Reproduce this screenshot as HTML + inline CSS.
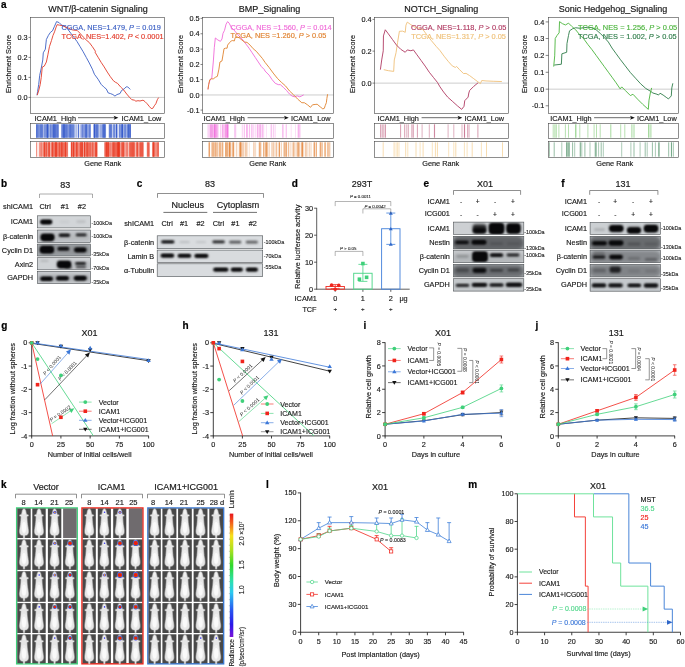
<!DOCTYPE html>
<html lang="en"><head><meta charset="utf-8"><title>Figure</title>
<style>
html,body{margin:0;padding:0;background:#fff;}
body{width:685px;height:667px;overflow:hidden;}
svg{display:block;font-family:"Liberation Sans",Arial,sans-serif;}
svg text{white-space:pre;}
</style></head><body>
<svg width="685" height="667" viewBox="0 0 685 667">
<defs>
<filter color-interpolation-filters="sRGB" id="b1" x="-30%" y="-80%" width="160%" height="260%"><feGaussianBlur stdDeviation="0.95"/></filter>
<filter color-interpolation-filters="sRGB" id="b07" x="-30%" y="-100%" width="160%" height="300%"><feGaussianBlur stdDeviation="0.85"/></filter>
<filter color-interpolation-filters="sRGB" id="bm" x="-30%" y="-10%" width="160%" height="120%"><feGaussianBlur stdDeviation="0.9"/></filter>
<filter color-interpolation-filters="sRGB" id="b2" x="-30%" y="-80%" width="160%" height="260%"><feGaussianBlur stdDeviation="1.6"/></filter>
<filter color-interpolation-filters="sRGB" id="b05" x="-30%" y="-30%" width="160%" height="160%"><feGaussianBlur stdDeviation="0.55"/></filter>
<linearGradient id="cbar" x1="0" y1="0" x2="0" y2="1">
<stop offset="0" stop-color="#e8141c"/><stop offset="0.08" stop-color="#f2661c"/><stop offset="0.18" stop-color="#f7e01c"/><stop offset="0.30" stop-color="#a8e020"/><stop offset="0.42" stop-color="#30d82c"/><stop offset="0.55" stop-color="#2ce0b0"/><stop offset="0.64" stop-color="#2cc8f0"/><stop offset="0.78" stop-color="#2858f0"/><stop offset="0.90" stop-color="#2a18e8"/><stop offset="1" stop-color="#7a12d8"/>
</linearGradient>
</defs>
<g id="pa">
<text x="1" y="7.5" font-size="10" fill="#000" stroke="#000" stroke-width="0.21" font-weight="bold">a</text>
<text x="98" y="12.3" font-size="9" fill="#1a1a1a" stroke="#1a1a1a" stroke-width="0.18" text-anchor="middle">WNT/β-catenin Signaling</text>
<line x1="30.5" y1="97.4" x2="164.5" y2="97.4" stroke="#cdcdcd" stroke-width="1"/>
<polyline points="37,95.2 37.6,91.5 38.69,84.48 39.71,75.28 41.25,68.12 42.78,59.94 43.29,52.79 45.34,49.21 46.36,39.49 48.4,35.4 50.45,32.34 52.49,30.8 54.54,26.2 56.58,21.6 59.14,22.62 61.7,25.18 64.76,26.2 67.83,29.27 70.9,33.36 73.97,37.45 77.03,41.54 80.1,46.65 83.17,51.76 86.24,57.39 89.3,63.01 92.37,69.15 94.42,74.26 98.07,79.21 101.13,84.32 104.2,87.39 106.25,88.92 108.29,93.01 110.34,93.52 112.89,94.55 114.94,96.08 116.98,94.55 120.05,93.52 121.58,90.46 124.14,88.92 126.19,86.88 127.72,86.88 130.28,89.43" fill="none" stroke="#3b5fc4" stroke-width="0.9" stroke-linejoin="round"/>
<polyline points="37.2,95.2 38.6,91 40.22,84.48 41.25,77.33 42.27,67.1 44.31,66.08 46.36,61.99 47.89,54.83 49.43,46.65 51.47,40.52 53.01,35.4 54.54,31.83 56.07,27.22 57.1,24.67 59.65,25.18 62.72,25.69 65.79,27.22 68.85,28.25 71.92,29.78 74.99,30.29 77.03,30.29 80.1,33.36 83.17,36.94 86.24,40.01 89.3,42.56 92.37,46.65 95.44,51.25 95,52.11 98.07,57.22 101.13,62.34 104.2,66.94 107.27,72.05 110.34,76.65 113.4,80.74 115.45,82.28 117.49,83.3 120.56,86.88 123.63,89.94 126.7,94.03 129.76,97.61 131.81,99.66 134.37,100.17 135.9,101.19 137.94,100.68 139.99,100.99 143.06,100.17 145.1,101.7 147.15,103.75 149.19,106.3 151.24,108.55 152.77,108.35 154.3,105.79 155.84,103.75 157.37,99.66 158.6,97.61" fill="none" stroke="#e23b2a" stroke-width="0.9" stroke-linejoin="round"/>
<rect x="30.5" y="17.5" width="134" height="96" fill="none" stroke="#444" stroke-width="0.6"/>
<line x1="28.5" y1="37.4" x2="30.5" y2="37.4" stroke="#333" stroke-width="0.6"/>
<text x="27.6" y="40" font-size="7.3" fill="#1a1a1a" stroke="#1a1a1a" stroke-width="0.15" text-anchor="end">0.3</text>
<line x1="28.5" y1="57.4" x2="30.5" y2="57.4" stroke="#333" stroke-width="0.6"/>
<text x="27.6" y="60" font-size="7.3" fill="#1a1a1a" stroke="#1a1a1a" stroke-width="0.15" text-anchor="end">0.2</text>
<line x1="28.5" y1="77.4" x2="30.5" y2="77.4" stroke="#333" stroke-width="0.6"/>
<text x="27.6" y="80" font-size="7.3" fill="#1a1a1a" stroke="#1a1a1a" stroke-width="0.15" text-anchor="end">0.1</text>
<line x1="28.5" y1="97.4" x2="30.5" y2="97.4" stroke="#333" stroke-width="0.6"/>
<text x="27.6" y="100" font-size="7.3" fill="#1a1a1a" stroke="#1a1a1a" stroke-width="0.15" text-anchor="end">0.0</text>
<text font-size="7.3" fill="#1a1a1a" stroke="#1a1a1a" stroke-width="0.15" text-anchor="middle" transform="translate(11.1 64) rotate(-90)">Enrichment Score</text>
<text x="61.5" y="29.7" font-size="7.35" fill="#3b5fc4" stroke="#3b5fc4" stroke-width="0.15">CGGA, NES=1.479, <tspan font-style="italic">P</tspan> = 0.019</text>
<text x="61.5" y="38.5" font-size="7.35" fill="#e23b2a" stroke="#e23b2a" stroke-width="0.15">TCGA, NES=1.402, <tspan font-style="italic">P</tspan> &lt; 0.0001</text>
<text x="34.6" y="120.6" font-size="7.3" fill="#1a1a1a" stroke="#1a1a1a" stroke-width="0.15">ICAM1_High</text>
<line x1="78" y1="117.7" x2="116" y2="117.7" stroke="#1a1a1a" stroke-width="0.65"/>
<polygon points="118.4,117.7 113.6,115.7 114.8,117.7 113.6,119.7" fill="#111"/>
<text x="121.6" y="120.6" font-size="7.3" fill="#1a1a1a" stroke="#1a1a1a" stroke-width="0.15">ICAM1_Low</text>
<rect x="36" y="124.3" width="22.5" height="13.4" fill="#2f55c8" opacity="0.3"/>
<rect x="61.7" y="124.3" width="14.3" height="13.4" fill="#2f55c8" opacity="0.3"/>
<rect x="76" y="124.3" width="8" height="13.4" fill="#2f55c8" opacity="0.12"/>
<rect x="84" y="124.3" width="6.4" height="13.4" fill="#2f55c8" opacity="0.25"/>
<rect x="93.4" y="124.3" width="12.3" height="13.4" fill="#2f55c8" opacity="0.3"/>
<rect x="108.8" y="124.3" width="8.2" height="13.4" fill="#2f55c8" opacity="0.3"/>
<rect x="118.5" y="124.3" width="12.5" height="13.4" fill="#2f55c8" opacity="0.3"/>
<path d="M78 124.3V137.7" stroke="#2f55c8" stroke-width="0.5" stroke-opacity="0.4" fill="none"/>
<path d="M36.7 124.3V137.7M36.8 124.3V137.7M38.1 124.3V137.7M38.7 124.3V137.7M41.2 124.3V137.7M42.5 124.3V137.7M44.9 124.3V137.7M47 124.3V137.7M50.5 124.3V137.7M53.2 124.3V137.7M53.2 124.3V137.7M55.4 124.3V137.7M56.3 124.3V137.7M57.5 124.3V137.7M61.9 124.3V137.7M62 124.3V137.7M62.1 124.3V137.7M64.1 124.3V137.7M66.6 124.3V137.7M67.7 124.3V137.7M69 124.3V137.7M69.9 124.3V137.7M71.3 124.3V137.7M72.5 124.3V137.7M76.5 124.3V137.7M80.6 124.3V137.7M82 124.3V137.7M83 124.3V137.7M85.3 124.3V137.7M86.2 124.3V137.7M86.8 124.3V137.7M89.8 124.3V137.7M93.9 124.3V137.7M94.4 124.3V137.7M94.4 124.3V137.7M94.7 124.3V137.7M94.8 124.3V137.7M97.6 124.3V137.7M100.4 124.3V137.7M101.6 124.3V137.7M103.6 124.3V137.7M104.6 124.3V137.7M109.1 124.3V137.7M109.5 124.3V137.7M111.3 124.3V137.7M111.4 124.3V137.7M116.3 124.3V137.7M116.8 124.3V137.7M116.9 124.3V137.7M121.5 124.3V137.7M121.6 124.3V137.7M121.7 124.3V137.7M122.3 124.3V137.7M123.9 124.3V137.7M125.4 124.3V137.7M127.1 124.3V137.7M128.4 124.3V137.7M128.8 124.3V137.7M129.7 124.3V137.7M129.7 124.3V137.7M129.9 124.3V137.7M130 124.3V137.7M130.4 124.3V137.7" stroke="#2f55c8" stroke-width="0.5" stroke-opacity="0.6" fill="none"/>
<path d="M36.6 124.3V137.7M37 124.3V137.7M39.9 124.3V137.7M40.9 124.3V137.7M40.9 124.3V137.7M42.1 124.3V137.7M42.8 124.3V137.7M44.4 124.3V137.7M45.9 124.3V137.7M46 124.3V137.7M47.1 124.3V137.7M47.4 124.3V137.7M47.7 124.3V137.7M48.6 124.3V137.7M49 124.3V137.7M51.8 124.3V137.7M52.2 124.3V137.7M53.3 124.3V137.7M53.9 124.3V137.7M54.2 124.3V137.7M54.7 124.3V137.7M54.8 124.3V137.7M54.8 124.3V137.7M55.9 124.3V137.7M57.1 124.3V137.7M57.1 124.3V137.7M58.1 124.3V137.7M62 124.3V137.7M63.3 124.3V137.7M63.8 124.3V137.7M64 124.3V137.7M64 124.3V137.7M64.2 124.3V137.7M64.9 124.3V137.7M66.3 124.3V137.7M66.8 124.3V137.7M67.3 124.3V137.7M68.9 124.3V137.7M69.4 124.3V137.7M70.5 124.3V137.7M71.4 124.3V137.7M71.9 124.3V137.7M73.1 124.3V137.7M78.5 124.3V137.7M78.5 124.3V137.7M78.6 124.3V137.7M81.6 124.3V137.7M82.6 124.3V137.7M82.9 124.3V137.7M83.7 124.3V137.7M84.7 124.3V137.7M85.3 124.3V137.7M85.9 124.3V137.7M86.4 124.3V137.7M89.6 124.3V137.7M90 124.3V137.7M95.1 124.3V137.7M96.3 124.3V137.7M96.4 124.3V137.7M97.6 124.3V137.7M102.7 124.3V137.7M103 124.3V137.7M103.7 124.3V137.7M104.1 124.3V137.7M104.4 124.3V137.7M104.8 124.3V137.7M105.6 124.3V137.7M109.6 124.3V137.7M110.6 124.3V137.7M110.9 124.3V137.7M110.9 124.3V137.7M113.7 124.3V137.7M114.1 124.3V137.7M114.4 124.3V137.7M116.5 124.3V137.7M116.8 124.3V137.7M116.9 124.3V137.7M119.4 124.3V137.7M119.8 124.3V137.7M120.4 124.3V137.7M122.7 124.3V137.7M125.7 124.3V137.7M127.4 124.3V137.7M129 124.3V137.7" stroke="#2f55c8" stroke-width="0.5" stroke-opacity="0.8" fill="none"/>
<path d="M37.3 124.3V137.7M39 124.3V137.7M41.1 124.3V137.7M47.3 124.3V137.7M47.4 124.3V137.7M47.6 124.3V137.7M50.7 124.3V137.7M53.6 124.3V137.7M55.9 124.3V137.7M58.3 124.3V137.7M63.3 124.3V137.7M64.9 124.3V137.7M65.4 124.3V137.7M70.4 124.3V137.7M73.1 124.3V137.7M74 124.3V137.7M86.1 124.3V137.7M87.1 124.3V137.7M88.3 124.3V137.7M90.3 124.3V137.7M94.3 124.3V137.7M94.7 124.3V137.7M94.8 124.3V137.7M96.8 124.3V137.7M98.1 124.3V137.7M103.1 124.3V137.7M105.1 124.3V137.7M116.3 124.3V137.7M122.1 124.3V137.7M122.5 124.3V137.7M122.5 124.3V137.7M124.7 124.3V137.7M128.2 124.3V137.7M128.5 124.3V137.7M130.5 124.3V137.7" stroke="#2f55c8" stroke-width="0.5" stroke-opacity="1" fill="none"/>
<rect x="30.5" y="123.5" width="134" height="15" fill="none" stroke="#444" stroke-width="0.6"/>
<rect x="36.2" y="142.3" width="7.8" height="14.4" fill="#e8341c" opacity="0.1"/>
<rect x="44" y="142.3" width="23.9" height="14.4" fill="#e8341c" opacity="0.38"/>
<rect x="71" y="142.3" width="26.5" height="14.4" fill="#e8341c" opacity="0.38"/>
<rect x="104.7" y="142.3" width="19.3" height="14.4" fill="#e8341c" opacity="0.42"/>
<rect x="124" y="142.3" width="20" height="14.4" fill="#e8341c" opacity="0.22"/>
<rect x="146.5" y="142.3" width="3" height="14.4" fill="#e8341c" opacity="0.2"/>
<rect x="152" y="142.3" width="6.9" height="14.4" fill="#e8341c" opacity="0.3"/>
<path d="M36.5 142.3V156.7M36.6 142.3V156.7M39.6 142.3V156.7M39.7 142.3V156.7M40.7 142.3V156.7M41.4 142.3V156.7M44.5 142.3V156.7M49.3 142.3V156.7M49.6 142.3V156.7M51.5 142.3V156.7M51.8 142.3V156.7M53.2 142.3V156.7M55.1 142.3V156.7M55.3 142.3V156.7M58.9 142.3V156.7M59.6 142.3V156.7M59.8 142.3V156.7M60.1 142.3V156.7M60.7 142.3V156.7M61.8 142.3V156.7M63.4 142.3V156.7M64.4 142.3V156.7M65.7 142.3V156.7M65.7 142.3V156.7M65.8 142.3V156.7M67 142.3V156.7M67.7 142.3V156.7M71.1 142.3V156.7M71.9 142.3V156.7M73 142.3V156.7M73.6 142.3V156.7M73.7 142.3V156.7M74.2 142.3V156.7M74.7 142.3V156.7M75.8 142.3V156.7M77.1 142.3V156.7M78.9 142.3V156.7M81.8 142.3V156.7M84 142.3V156.7M84.6 142.3V156.7M86.4 142.3V156.7M87.2 142.3V156.7M89.4 142.3V156.7M89.8 142.3V156.7M90.2 142.3V156.7M92.2 142.3V156.7M92.7 142.3V156.7M94.2 142.3V156.7M96.4 142.3V156.7M106 142.3V156.7M106.1 142.3V156.7M110.4 142.3V156.7M111.2 142.3V156.7M113.1 142.3V156.7M113.2 142.3V156.7M114.4 142.3V156.7M115.8 142.3V156.7M117.2 142.3V156.7M118.5 142.3V156.7M119.5 142.3V156.7M123.3 142.3V156.7M126 142.3V156.7M130.2 142.3V156.7M130.4 142.3V156.7M132.8 142.3V156.7M133.1 142.3V156.7M133.2 142.3V156.7M133.3 142.3V156.7M139.9 142.3V156.7M140.5 142.3V156.7M140.8 142.3V156.7M141.3 142.3V156.7M142.3 142.3V156.7M142.6 142.3V156.7M147.7 142.3V156.7M152.9 142.3V156.7M153 142.3V156.7M153 142.3V156.7M153.7 142.3V156.7M155.7 142.3V156.7M158.4 142.3V156.7" stroke="#e8341c" stroke-width="0.5" stroke-opacity="0.6" fill="none"/>
<path d="M40.9 142.3V156.7M41.8 142.3V156.7M42.7 142.3V156.7M43.6 142.3V156.7M43.7 142.3V156.7M44.6 142.3V156.7M44.7 142.3V156.7M44.8 142.3V156.7M44.9 142.3V156.7M46.5 142.3V156.7M46.7 142.3V156.7M48.1 142.3V156.7M48.4 142.3V156.7M54.1 142.3V156.7M55 142.3V156.7M56.1 142.3V156.7M56.6 142.3V156.7M58.7 142.3V156.7M59.6 142.3V156.7M61.3 142.3V156.7M62 142.3V156.7M62.3 142.3V156.7M63.6 142.3V156.7M64.6 142.3V156.7M65.5 142.3V156.7M65.6 142.3V156.7M66.9 142.3V156.7M71.4 142.3V156.7M71.5 142.3V156.7M71.5 142.3V156.7M73 142.3V156.7M73.5 142.3V156.7M73.7 142.3V156.7M76.1 142.3V156.7M76.5 142.3V156.7M77.2 142.3V156.7M77.6 142.3V156.7M79.2 142.3V156.7M80.5 142.3V156.7M81.4 142.3V156.7M81.9 142.3V156.7M82.1 142.3V156.7M82.2 142.3V156.7M82.3 142.3V156.7M82.5 142.3V156.7M84.8 142.3V156.7M84.9 142.3V156.7M86.5 142.3V156.7M87.1 142.3V156.7M88.5 142.3V156.7M90.2 142.3V156.7M91 142.3V156.7M92.3 142.3V156.7M93.3 142.3V156.7M95.3 142.3V156.7M96.5 142.3V156.7M97.1 142.3V156.7M104.9 142.3V156.7M106.2 142.3V156.7M106.6 142.3V156.7M106.9 142.3V156.7M107.4 142.3V156.7M107.5 142.3V156.7M108.1 142.3V156.7M108.2 142.3V156.7M109 142.3V156.7M112.5 142.3V156.7M113.2 142.3V156.7M114 142.3V156.7M114.1 142.3V156.7M115.6 142.3V156.7M117.4 142.3V156.7M117.6 142.3V156.7M118.3 142.3V156.7M118.3 142.3V156.7M118.8 142.3V156.7M119.1 142.3V156.7M119.1 142.3V156.7M119.8 142.3V156.7M122 142.3V156.7M123 142.3V156.7M123.6 142.3V156.7M124.2 142.3V156.7M127.3 142.3V156.7M127.8 142.3V156.7M130.2 142.3V156.7M131.5 142.3V156.7M131.6 142.3V156.7M132.8 142.3V156.7M133.7 142.3V156.7M134.8 142.3V156.7M136.7 142.3V156.7M137.1 142.3V156.7M138.9 142.3V156.7M140 142.3V156.7M140.2 142.3V156.7M142.5 142.3V156.7M143.3 142.3V156.7M147.4 142.3V156.7M148.5 142.3V156.7M149.4 142.3V156.7M153.7 142.3V156.7M153.7 142.3V156.7M154 142.3V156.7M154.4 142.3V156.7M156.2 142.3V156.7M157.3 142.3V156.7M157.8 142.3V156.7" stroke="#e8341c" stroke-width="0.5" stroke-opacity="0.8" fill="none"/>
<path d="M46 142.3V156.7M49 142.3V156.7M49.4 142.3V156.7M52.5 142.3V156.7M52.5 142.3V156.7M53.1 142.3V156.7M55.7 142.3V156.7M56 142.3V156.7M56.2 142.3V156.7M56.2 142.3V156.7M57.6 142.3V156.7M61.6 142.3V156.7M62.2 142.3V156.7M65.4 142.3V156.7M73.1 142.3V156.7M76.6 142.3V156.7M80.4 142.3V156.7M80.9 142.3V156.7M84.5 142.3V156.7M84.8 142.3V156.7M87.5 142.3V156.7M88 142.3V156.7M95.7 142.3V156.7M95.8 142.3V156.7M96.3 142.3V156.7M105 142.3V156.7M106.6 142.3V156.7M108.4 142.3V156.7M108.7 142.3V156.7M114.1 142.3V156.7M116.2 142.3V156.7M117.2 142.3V156.7M118.4 142.3V156.7M118.4 142.3V156.7M119.4 142.3V156.7M122 142.3V156.7M122.2 142.3V156.7M123.9 142.3V156.7M126.2 142.3V156.7M129.5 142.3V156.7M130.8 142.3V156.7M132 142.3V156.7M132.9 142.3V156.7M134.6 142.3V156.7M136.9 142.3V156.7M137.5 142.3V156.7M137.8 142.3V156.7M141.4 142.3V156.7M141.9 142.3V156.7M147.9 142.3V156.7M148.8 142.3V156.7M153.3 142.3V156.7M158.3 142.3V156.7" stroke="#e8341c" stroke-width="0.5" stroke-opacity="1" fill="none"/>
<rect x="30.5" y="141.5" width="134" height="16" fill="none" stroke="#444" stroke-width="0.6"/>
<text x="102.8" y="166.4" font-size="7.3" fill="#1a1a1a" stroke="#1a1a1a" stroke-width="0.15" text-anchor="middle">Gene Rank</text>
<text x="269.48" y="12.3" font-size="9" fill="#1a1a1a" stroke="#1a1a1a" stroke-width="0.18" text-anchor="middle">BMP_Signaling</text>
<line x1="202.5" y1="94.96" x2="333.5" y2="94.96" stroke="#cdcdcd" stroke-width="1"/>
<polyline points="208,89.4 208.69,84.48 210.22,79.37 211.76,78.35 213.29,61.99 214.31,47.67 215.34,37.96 217.89,40.01 220.45,41.34 221.98,38.98 223.01,33.36 224.54,30.29 226.07,24.16 227.61,21.6 229.14,23.13 231.19,27.22 233.74,29.78 236.81,33.36 239.88,36.94 242.94,40.01 246.01,44.1 249.08,48.19 252.15,52.79 255.21,57.39 258.28,61.99 261.35,66.59 264.42,69.66 265,71.03 269.09,75.12 272.16,79.72 275.22,83.3 278.29,84.63 280.34,84.63 283.4,87.39 286.47,90.46 289.54,94.03 292.1,96.08 294.65,96.8 297.21,95.88 299.76,96.8 301.81,95.88 303.65,94.85" fill="none" stroke="#f06ad8" stroke-width="0.9" stroke-linejoin="round"/>
<polyline points="208,89.4 208.69,84.48 209.71,79.88 211.25,78.86 213.29,78.86 215.34,77.33 217.38,76.3 218.92,69.15 219.94,61.99 221.98,60.97 223.01,54.83 224.03,48.7 225.56,48.19 227.1,48.19 227.61,45.12 229.14,43.07 231.19,41.03 232.72,40.52 234.25,41.03 235.28,37.45 237.32,36.94 239.37,37.96 241.92,40.01 244.48,42.05 247.03,42.36 250.1,45.12 253.17,48.7 256.24,51.25 259.3,54.83 262.37,58.41 265,62.34 269.09,67.45 273.18,73.07 277.27,78.19 281.36,82.28 285.45,85.85 289.54,90.97 293.63,94.85 297.72,99.15 301.81,102.73 304.37,102.73 307.43,104.77 310.5,107.33 312.55,104.77 315.1,104.46 317.15,104.26 320.21,106.82 322.77,108.86 324.3,108.35 325.33,105.28 326.35,102.73 326.86,98.64 327.58,94.24" fill="none" stroke="#e0822f" stroke-width="0.9" stroke-linejoin="round"/>
<rect x="202.5" y="17.5" width="131" height="96" fill="none" stroke="#444" stroke-width="0.6"/>
<line x1="200.5" y1="18.39" x2="202.5" y2="18.39" stroke="#333" stroke-width="0.6"/>
<text x="199.6" y="20.99" font-size="7.3" fill="#1a1a1a" stroke="#1a1a1a" stroke-width="0.15" text-anchor="end">0.5</text>
<line x1="200.5" y1="33.75" x2="202.5" y2="33.75" stroke="#333" stroke-width="0.6"/>
<text x="199.6" y="36.35" font-size="7.3" fill="#1a1a1a" stroke="#1a1a1a" stroke-width="0.15" text-anchor="end">0.4</text>
<line x1="200.5" y1="49.12" x2="202.5" y2="49.12" stroke="#333" stroke-width="0.6"/>
<text x="199.6" y="51.72" font-size="7.3" fill="#1a1a1a" stroke="#1a1a1a" stroke-width="0.15" text-anchor="end">0.3</text>
<line x1="200.5" y1="64.48" x2="202.5" y2="64.48" stroke="#333" stroke-width="0.6"/>
<text x="199.6" y="67.08" font-size="7.3" fill="#1a1a1a" stroke="#1a1a1a" stroke-width="0.15" text-anchor="end">0.2</text>
<line x1="200.5" y1="79.6" x2="202.5" y2="79.6" stroke="#333" stroke-width="0.6"/>
<text x="199.6" y="82.2" font-size="7.3" fill="#1a1a1a" stroke="#1a1a1a" stroke-width="0.15" text-anchor="end">0.1</text>
<line x1="200.5" y1="94.96" x2="202.5" y2="94.96" stroke="#333" stroke-width="0.6"/>
<text x="199.6" y="97.56" font-size="7.3" fill="#1a1a1a" stroke="#1a1a1a" stroke-width="0.15" text-anchor="end">0.0</text>
<line x1="200.5" y1="110.08" x2="202.5" y2="110.08" stroke="#333" stroke-width="0.6"/>
<text x="199.6" y="112.68" font-size="7.3" fill="#1a1a1a" stroke="#1a1a1a" stroke-width="0.15" text-anchor="end">-0.1</text>
<text font-size="7.3" fill="#1a1a1a" stroke="#1a1a1a" stroke-width="0.15" text-anchor="middle" transform="translate(183.1 64) rotate(-90)">Enrichment Score</text>
<text x="230.44" y="29.5" font-size="7.35" fill="#f06ad8" stroke="#f06ad8" stroke-width="0.15">CGGA, NES =1.560, <tspan font-style="italic">P</tspan> = 0.014</text>
<text x="230.44" y="38.3" font-size="7.35" fill="#e0822f" stroke="#e0822f" stroke-width="0.15">TCGA, NES =1.260, <tspan font-style="italic">P</tspan> &gt; 0.05</text>
<text x="203.49" y="120.6" font-size="7.3" fill="#1a1a1a" stroke="#1a1a1a" stroke-width="0.15">ICAM1_High</text>
<line x1="247.57" y1="117.7" x2="286.37" y2="117.7" stroke="#1a1a1a" stroke-width="0.65"/>
<polygon points="288.77,117.7 283.97,115.7 285.17,117.7 283.97,119.7" fill="#111"/>
<text x="290.89" y="120.6" font-size="7.3" fill="#1a1a1a" stroke="#1a1a1a" stroke-width="0.15">ICAM1_Low</text>
<path d="M222.6 124.3V137.7M223.7 124.3V137.7M225.5 124.3V137.7M226 124.3V137.7M227.9 124.3V137.7M234.9 124.3V137.7M244 124.3V137.7M247 124.3V137.7M247 124.3V137.7M249.3 124.3V137.7M257 124.3V137.7M258.9 124.3V137.7M259.2 124.3V137.7M259.6 124.3V137.7M260.6 124.3V137.7M262.5 124.3V137.7M266.4 124.3V137.7M282.6 124.3V137.7M283.6 124.3V137.7M286 124.3V137.7M291.2 124.3V137.7M295.5 124.3V137.7M298.1 124.3V137.7M299.4 124.3V137.7" stroke="#ee5fd6" stroke-width="0.5" stroke-opacity="0.4" fill="none"/>
<path d="M209.4 124.3V137.7M210.6 124.3V137.7M211 124.3V137.7M214.3 124.3V137.7M214.3 124.3V137.7M214.4 124.3V137.7M214.7 124.3V137.7M216.4 124.3V137.7M216.7 124.3V137.7M216.8 124.3V137.7M217.7 124.3V137.7M218 124.3V137.7M223.2 124.3V137.7M224.6 124.3V137.7M226.4 124.3V137.7M226.5 124.3V137.7M227.5 124.3V137.7M228.1 124.3V137.7M234.8 124.3V137.7M235.8 124.3V137.7M242.3 124.3V137.7M244.5 124.3V137.7M246.6 124.3V137.7M247.2 124.3V137.7M249.5 124.3V137.7M251.4 124.3V137.7M252.1 124.3V137.7M253.3 124.3V137.7M255.2 124.3V137.7M257.5 124.3V137.7M257.9 124.3V137.7M260.3 124.3V137.7M261 124.3V137.7M262.4 124.3V137.7M263.7 124.3V137.7M271 124.3V137.7M271.7 124.3V137.7M273.5 124.3V137.7M275.1 124.3V137.7M282.7 124.3V137.7M286.4 124.3V137.7M298.2 124.3V137.7M298.8 124.3V137.7M300.1 124.3V137.7" stroke="#ee5fd6" stroke-width="0.5" stroke-opacity="0.6" fill="none"/>
<path d="M208.1 124.3V137.7M210.4 124.3V137.7M211.7 124.3V137.7M211.9 124.3V137.7M212.4 124.3V137.7M213.2 124.3V137.7M214.3 124.3V137.7M215.1 124.3V137.7M215.2 124.3V137.7M215.6 124.3V137.7M220.8 124.3V137.7M222.6 124.3V137.7M225.3 124.3V137.7M226.1 124.3V137.7M227.7 124.3V137.7M227.7 124.3V137.7M227.7 124.3V137.7" stroke="#ee5fd6" stroke-width="0.5" stroke-opacity="0.8" fill="none"/>
<rect x="202.5" y="123.5" width="131" height="15" fill="none" stroke="#444" stroke-width="0.6"/>
<path d="M237 142.3V156.7M239.3 142.3V156.7M242.2 142.3V156.7M243.6 142.3V156.7M247.5 142.3V156.7M249.3 142.3V156.7M255.7 142.3V156.7M265.5 142.3V156.7M268.1 142.3V156.7M274.1 142.3V156.7M275.7 142.3V156.7M284.7 142.3V156.7M286.4 142.3V156.7M293.5 142.3V156.7M293.7 142.3V156.7M295.4 142.3V156.7M298.1 142.3V156.7M300.1 142.3V156.7M302.1 142.3V156.7M303 142.3V156.7M303.9 142.3V156.7M305.7 142.3V156.7M307.5 142.3V156.7M308.9 142.3V156.7M321.3 142.3V156.7M328.9 142.3V156.7" stroke="#e07a28" stroke-width="0.5" stroke-opacity="0.4" fill="none"/>
<path d="M209.5 142.3V156.7M209.6 142.3V156.7M211.9 142.3V156.7M212.1 142.3V156.7M212.3 142.3V156.7M213.7 142.3V156.7M213.7 142.3V156.7M217.5 142.3V156.7M217.9 142.3V156.7M219.3 142.3V156.7M219.4 142.3V156.7M220.1 142.3V156.7M220.2 142.3V156.7M220.9 142.3V156.7M221.1 142.3V156.7M222.4 142.3V156.7M223.2 142.3V156.7M226.4 142.3V156.7M227.2 142.3V156.7M227.5 142.3V156.7M229.1 142.3V156.7M229.7 142.3V156.7M231.9 142.3V156.7M232.6 142.3V156.7M233.1 142.3V156.7M233.3 142.3V156.7M233.4 142.3V156.7M233.6 142.3V156.7M233.9 142.3V156.7M236.3 142.3V156.7M240.5 142.3V156.7M240.5 142.3V156.7M242.3 142.3V156.7M243.8 142.3V156.7M254.9 142.3V156.7M259.1 142.3V156.7M259.4 142.3V156.7M260 142.3V156.7M260.5 142.3V156.7M261.1 142.3V156.7M263.5 142.3V156.7M264.5 142.3V156.7M266.4 142.3V156.7M266.6 142.3V156.7M266.7 142.3V156.7M269.4 142.3V156.7M271.6 142.3V156.7M272.6 142.3V156.7M276.3 142.3V156.7M279.5 142.3V156.7M285.9 142.3V156.7M286.5 142.3V156.7M286.8 142.3V156.7M288.7 142.3V156.7M290.8 142.3V156.7M292.4 142.3V156.7M293.9 142.3V156.7M294.1 142.3V156.7M297.7 142.3V156.7M297.8 142.3V156.7M298.5 142.3V156.7M298.5 142.3V156.7M301.6 142.3V156.7M302.1 142.3V156.7M302.1 142.3V156.7M302.3 142.3V156.7M302.4 142.3V156.7M305.7 142.3V156.7M306.4 142.3V156.7M309.7 142.3V156.7M311.1 142.3V156.7M314.1 142.3V156.7M314.5 142.3V156.7M314.5 142.3V156.7M316.2 142.3V156.7M316.3 142.3V156.7M320.2 142.3V156.7M320.4 142.3V156.7M325.6 142.3V156.7M327.6 142.3V156.7M327.7 142.3V156.7" stroke="#e07a28" stroke-width="0.5" stroke-opacity="0.6" fill="none"/>
<path d="M209 142.3V156.7M209.1 142.3V156.7M213.1 142.3V156.7M214.7 142.3V156.7M215.4 142.3V156.7M215.7 142.3V156.7M216.5 142.3V156.7M222.5 142.3V156.7M225.6 142.3V156.7M225.6 142.3V156.7M226.4 142.3V156.7M227.9 142.3V156.7M229.2 142.3V156.7M229.5 142.3V156.7M229.8 142.3V156.7M230 142.3V156.7M230.4 142.3V156.7M239.4 142.3V156.7M240.1 142.3V156.7M240.7 142.3V156.7M240.7 142.3V156.7M241.4 142.3V156.7M245.4 142.3V156.7M246.4 142.3V156.7M253.7 142.3V156.7M259.7 142.3V156.7M263.5 142.3V156.7M265.8 142.3V156.7M266 142.3V156.7M267.4 142.3V156.7M273.7 142.3V156.7M276.8 142.3V156.7M279.1 142.3V156.7M279.2 142.3V156.7M279.5 142.3V156.7M281.3 142.3V156.7M283.9 142.3V156.7M284.4 142.3V156.7M285.7 142.3V156.7M288.7 142.3V156.7M296.9 142.3V156.7M299.4 142.3V156.7M302.7 142.3V156.7M314 142.3V156.7M316.3 142.3V156.7M320.2 142.3V156.7M321.2 142.3V156.7M322.5 142.3V156.7M324.5 142.3V156.7M325.4 142.3V156.7M328.8 142.3V156.7M329.9 142.3V156.7" stroke="#e07a28" stroke-width="0.5" stroke-opacity="0.8" fill="none"/>
<rect x="202.5" y="141.5" width="131" height="16" fill="none" stroke="#444" stroke-width="0.6"/>
<text x="267.72" y="166.4" font-size="7.3" fill="#1a1a1a" stroke="#1a1a1a" stroke-width="0.15" text-anchor="middle">Gene Rank</text>
<text x="441.23" y="12.3" font-size="9" fill="#1a1a1a" stroke="#1a1a1a" stroke-width="0.18" text-anchor="middle">NOTCH_Signaling</text>
<line x1="374.5" y1="83.12" x2="508.5" y2="83.12" stroke="#cdcdcd" stroke-width="1"/>
<polyline points="383.76,69.66 388.36,70.68 393.68,71.4 394.29,59.94 396.03,52.79 397.56,42.56 399.4,31.31 402.67,31.11 405.23,32.34 405.95,25.18 407.28,22.11 410.85,24.67 414.94,27.22 419.03,28.25 423.12,29.78 427.21,35.4 431.3,40.52 436.42,46.65 440,50.58 444.09,56.2 448.18,61.31 452.27,65.92 455.34,67.45 456.56,66.43 459.43,69.49 463.52,73.58 466.07,73.38 469.65,75.63 473.74,78.7 477.83,81.76 480.39,83.61 481.72,80.54 486.01,80.95 493.17,81.25 501.86,81.56" fill="none" stroke="#efc078" stroke-width="0.9" stroke-linejoin="round"/>
<polyline points="380.38,69.66 381.71,59.94 383.25,50.74 383.45,35.92 385.29,29.78 388.36,33.87 392.45,39.49 396.54,45.12 400.63,49.21 405.23,52.28 407.28,49.92 410.85,50.74 413.41,49.92 416.99,54.83 421.08,60.46 425.17,66.08 429.26,72.21 433.35,77.33 437.44,82.44 440,86.88 443.58,91.99 447.67,97.1 452.27,101.19 457.38,105.79 461.68,109.37 464.03,106.3 464.74,100.68 468.12,97.1 468.83,93.01 469.65,90.46 473.74,86.37 478.04,82.79" fill="none" stroke="#b03a62" stroke-width="0.9" stroke-linejoin="round"/>
<rect x="374.5" y="17.5" width="134" height="96" fill="none" stroke="#444" stroke-width="0.6"/>
<line x1="372.5" y1="19.4" x2="374.5" y2="19.4" stroke="#333" stroke-width="0.6"/>
<text x="371.6" y="22" font-size="7.3" fill="#1a1a1a" stroke="#1a1a1a" stroke-width="0.15" text-anchor="end">0.4</text>
<line x1="372.5" y1="51.13" x2="374.5" y2="51.13" stroke="#333" stroke-width="0.6"/>
<text x="371.6" y="53.73" font-size="7.3" fill="#1a1a1a" stroke="#1a1a1a" stroke-width="0.15" text-anchor="end">0.2</text>
<line x1="372.5" y1="83.12" x2="374.5" y2="83.12" stroke="#333" stroke-width="0.6"/>
<text x="371.6" y="85.72" font-size="7.3" fill="#1a1a1a" stroke="#1a1a1a" stroke-width="0.15" text-anchor="end">0.0</text>
<text font-size="7.3" fill="#1a1a1a" stroke="#1a1a1a" stroke-width="0.15" text-anchor="middle" transform="translate(355.1 64) rotate(-90)">Enrichment Score</text>
<text x="411" y="29.7" font-size="7.42" fill="#b03a62" stroke="#b03a62" stroke-width="0.15">CGGA, NES=1.118, <tspan font-style="italic">P</tspan> &gt; 0.05</text>
<text x="411.25" y="38.5" font-size="7.42" fill="#efc078" stroke="#efc078" stroke-width="0.15">TCGA, NES=1.317, <tspan font-style="italic">P</tspan> &gt; 0.05</text>
<text x="377.5" y="120.6" font-size="7.3" fill="#1a1a1a" stroke="#1a1a1a" stroke-width="0.15">ICAM1_High</text>
<line x1="421.58" y1="117.7" x2="459.88" y2="117.7" stroke="#1a1a1a" stroke-width="0.65"/>
<polygon points="462.28,117.7 457.48,115.7 458.68,117.7 457.48,119.7" fill="#111"/>
<text x="464.4" y="120.6" font-size="7.3" fill="#1a1a1a" stroke="#1a1a1a" stroke-width="0.15">ICAM1_Low</text>
<path d="M406.8 124.3V137.7M408.4 124.3V137.7M422.1 124.3V137.7M429.3 124.3V137.7M434.4 124.3V137.7M434.6 124.3V137.7M448.1 124.3V137.7M453.8 124.3V137.7M462 124.3V137.7M464.4 124.3V137.7M469.1 124.3V137.7" stroke="#b03a62" stroke-width="0.5" stroke-opacity="0.8" fill="none"/>
<path d="M380.6 124.3V137.7M382.2 124.3V137.7M383.9 124.3V137.7M385.5 124.3V137.7M400.6 124.3V137.7M404.7 124.3V137.7M411.9 124.3V137.7M413.3 124.3V137.7M417.4 124.3V137.7M464.6 124.3V137.7M467.7 124.3V137.7M477.9 124.3V137.7" stroke="#b03a62" stroke-width="0.5" stroke-opacity="1" fill="none"/>
<rect x="374.5" y="123.5" width="134" height="15" fill="none" stroke="#444" stroke-width="0.6"/>
<path d="M396.1 142.3V156.7M397.6 142.3V156.7M399 142.3V156.7M407.8 142.3V156.7M420.1 142.3V156.7M432.3 142.3V156.7M448.7 142.3V156.7M453.8 142.3V156.7M464.4 142.3V156.7M467.1 142.3V156.7M481.4 142.3V156.7" stroke="#efb860" stroke-width="0.5" stroke-opacity="0.8" fill="none"/>
<path d="M383.2 142.3V156.7M394.1 142.3V156.7M405.7 142.3V156.7M416 142.3V156.7M423.1 142.3V156.7M435.4 142.3V156.7M437.4 142.3V156.7M455.8 142.3V156.7M472.2 142.3V156.7M486.5 142.3V156.7M502.5 142.3V156.7" stroke="#efb860" stroke-width="0.5" stroke-opacity="1" fill="none"/>
<rect x="374.5" y="141.5" width="134" height="16" fill="none" stroke="#444" stroke-width="0.6"/>
<text x="440.73" y="166.4" font-size="7.3" fill="#1a1a1a" stroke="#1a1a1a" stroke-width="0.15" text-anchor="middle">Gene Rank</text>
<text x="613" y="12.3" font-size="9" fill="#1a1a1a" stroke="#1a1a1a" stroke-width="0.18" text-anchor="middle">Sonic Hedgehog_Signaling</text>
<line x1="548.5" y1="89.17" x2="678.5" y2="89.17" stroke="#cdcdcd" stroke-width="1"/>
<polyline points="554.2,65.06 561.36,64.24 561.87,53.81 566.68,52.28 566.98,43.58 568.52,35.4 569.54,30.8 572.61,28.76 575.67,27.74 579.76,28.25 583.85,27.74 587.94,27.22 592.03,27.74 596.12,29.78 600.21,33.36 604.3,37.45 608.39,42.05 612,48.02 616.09,53.65 620.18,59.27 625.29,65.92 630.4,72.56 635.52,78.19 640.63,83.81 645.74,88.41 650.85,91.48 652.9,93.01 656.99,94.24 658.52,95.06 660.06,93.22 663.12,95.06 666.19,97.31 668.44,98.94 671.3,95.88 671.82,87.9 672.84,83.3" fill="none" stroke="#2f7d4a" stroke-width="0.9" stroke-linejoin="round"/>
<polyline points="553.69,66.59 554.71,55.85 555.22,38.47 557.07,35.4 559.11,32.85 559.52,21.6 562.38,23.65 565.45,24.98 568.52,23.13 571.58,26.2 575.67,29.78 579.76,34.89 583.85,38.98 587.94,44.61 592.03,49.72 596.12,55.34 600.21,60.97 604.3,66.59 608.39,72.21 612,77.16 616.09,82.79 620.18,88.92 621.71,86.88 625.29,90.46 630.4,95.57 632.96,94.24 637.56,99.15 642.67,104.26 648.3,109.37 649.01,100.17 650.34,93.01 651.67,87.9" fill="none" stroke="#4bb43c" stroke-width="0.9" stroke-linejoin="round"/>
<rect x="548.5" y="17.5" width="130" height="96" fill="none" stroke="#444" stroke-width="0.6"/>
<line x1="545.7" y1="21.91" x2="548.5" y2="21.91" stroke="#333" stroke-width="0.6"/>
<text x="544.3" y="24.51" font-size="7.3" fill="#1a1a1a" stroke="#1a1a1a" stroke-width="0.15" text-anchor="end">0.4</text>
<line x1="545.7" y1="38.54" x2="548.5" y2="38.54" stroke="#333" stroke-width="0.6"/>
<text x="544.3" y="41.14" font-size="7.3" fill="#1a1a1a" stroke="#1a1a1a" stroke-width="0.15" text-anchor="end">0.3</text>
<line x1="545.7" y1="55.42" x2="548.5" y2="55.42" stroke="#333" stroke-width="0.6"/>
<text x="544.3" y="58.02" font-size="7.3" fill="#1a1a1a" stroke="#1a1a1a" stroke-width="0.15" text-anchor="end">0.2</text>
<line x1="545.7" y1="72.29" x2="548.5" y2="72.29" stroke="#333" stroke-width="0.6"/>
<text x="544.3" y="74.89" font-size="7.3" fill="#1a1a1a" stroke="#1a1a1a" stroke-width="0.15" text-anchor="end">0.1</text>
<line x1="545.7" y1="89.17" x2="548.5" y2="89.17" stroke="#333" stroke-width="0.6"/>
<text x="544.3" y="91.77" font-size="7.3" fill="#1a1a1a" stroke="#1a1a1a" stroke-width="0.15" text-anchor="end">0.0</text>
<line x1="545.7" y1="105.79" x2="548.5" y2="105.79" stroke="#333" stroke-width="0.6"/>
<text x="544.3" y="108.39" font-size="7.3" fill="#1a1a1a" stroke="#1a1a1a" stroke-width="0.15" text-anchor="end">-0.1</text>
<text font-size="7.3" fill="#1a1a1a" stroke="#1a1a1a" stroke-width="0.15" text-anchor="middle" transform="translate(527 64) rotate(-90)">Enrichment Score</text>
<text x="578" y="29.9" font-size="7.45" fill="#4bb43c" stroke="#4bb43c" stroke-width="0.15">TCGA, NES = 1.256, <tspan font-style="italic">P</tspan> &gt; 0.05</text>
<text x="578" y="38.8" font-size="7.4" fill="#2f7d4a" stroke="#2f7d4a" stroke-width="0.15">TCGA, NES = 1.002, <tspan font-style="italic">P</tspan> &gt; 0.05</text>
<text x="550.28" y="120.6" font-size="7.3" fill="#1a1a1a" stroke="#1a1a1a" stroke-width="0.15">ICAM1_High</text>
<line x1="594.11" y1="117.7" x2="632.41" y2="117.7" stroke="#1a1a1a" stroke-width="0.65"/>
<polygon points="634.81,117.7 630.01,115.7 631.21,117.7 630.01,119.7" fill="#111"/>
<text x="636.93" y="120.6" font-size="7.3" fill="#1a1a1a" stroke="#1a1a1a" stroke-width="0.15">ICAM1_Low</text>
<path d="M553.2 124.3V137.7M554.8 124.3V137.7M558.9 124.3V137.7M565.4 124.3V137.7M568.5 124.3V137.7M575.7 124.3V137.7M575.9 124.3V137.7M579.8 124.3V137.7M587.9 124.3V137.7M594.1 124.3V137.7M596.5 124.3V137.7M600.2 124.3V137.7M620.7 124.3V137.7M624.8 124.3V137.7M648.7 124.3V137.7M648.9 124.3V137.7" stroke="#4bb43c" stroke-width="0.5" stroke-opacity="0.8" fill="none"/>
<path d="M556.2 124.3V137.7M610.8 124.3V137.7M631.9 124.3V137.7M634 124.3V137.7M650.9 124.3V137.7" stroke="#4bb43c" stroke-width="0.5" stroke-opacity="1" fill="none"/>
<rect x="548.5" y="123.5" width="130" height="15" fill="none" stroke="#444" stroke-width="0.6"/>
<path d="M549.5 142.3V156.7M561.8 142.3V156.7M567.1 142.3V156.7M567.9 142.3V156.7M569.5 142.3V156.7M574.7 142.3V156.7M580.2 142.3V156.7M580.4 142.3V156.7M581.8 142.3V156.7M590 142.3V156.7M595.1 142.3V156.7M595.5 142.3V156.7M596.5 142.3V156.7M598.6 142.3V156.7M603.3 142.3V156.7M621.7 142.3V156.7M630.9 142.3V156.7M640.1 142.3V156.7M647.2 142.3V156.7M655.4 142.3V156.7M659.5 142.3V156.7M671.6 142.3V156.7M673.4 142.3V156.7" stroke="#2f7d4a" stroke-width="0.5" stroke-opacity="0.8" fill="none"/>
<path d="M554.2 142.3V156.7M566.5 142.3V156.7M568.7 142.3V156.7M572.6 142.3V156.7M584.9 142.3V156.7M601.2 142.3V156.7M634 142.3V156.7M645.2 142.3V156.7M652.4 142.3V156.7M658.5 142.3V156.7M668.7 142.3V156.7M671.4 142.3V156.7" stroke="#2f7d4a" stroke-width="0.5" stroke-opacity="1" fill="none"/>
<rect x="548.5" y="141.5" width="130" height="16" fill="none" stroke="#444" stroke-width="0.6"/>
<text x="614.76" y="166.4" font-size="7.3" fill="#1a1a1a" stroke="#1a1a1a" stroke-width="0.15" text-anchor="middle">Gene Rank</text>
</g>
<g id="pb">
<text x="1" y="187.2" font-size="10" fill="#000" stroke="#000" stroke-width="0.21" font-weight="bold">b</text>
<text x="65.3" y="187.5" font-size="9" fill="#1a1a1a" stroke="#1a1a1a" stroke-width="0.18" text-anchor="middle">83</text>
<polyline points="39.5,198 39.5,194 92.5,194 92.5,198" fill="none" stroke="#666" stroke-width="0.55" stroke-linejoin="round"/>
<text x="33.1" y="209.2" font-size="7.3" fill="#1a1a1a" stroke="#1a1a1a" stroke-width="0.15" text-anchor="end">shICAM1</text>
<text x="45.2" y="209.2" font-size="7.3" fill="#1a1a1a" stroke="#1a1a1a" stroke-width="0.15" text-anchor="middle">Ctrl</text>
<text x="64.9" y="209.2" font-size="7.3" fill="#1a1a1a" stroke="#1a1a1a" stroke-width="0.15" text-anchor="middle">#1</text>
<text x="81.9" y="209.2" font-size="7.3" fill="#1a1a1a" stroke="#1a1a1a" stroke-width="0.15" text-anchor="middle">#2</text>
<clipPath id="bc1"><rect x="37.5" y="215.8" width="53" height="12.1"/></clipPath>
<rect x="37.5" y="215.8" width="53" height="12.1" fill="#d2d5d8"/>
<g clip-path="url(#bc1)">
<rect x="40.2" y="219.8" width="12" height="4.4" fill="#08080a" rx="2.09" opacity="1" filter="url(#b1)"/>
<rect x="41" y="220.6" width="10.4" height="2.8" fill="#08080a" rx="1.33" opacity="1" filter="url(#b1)"/>
<rect x="76.4" y="220.2" width="9.2" height="2.8" fill="#08080a" rx="1.33" opacity="0.1" filter="url(#b1)"/>
<rect x="59.6" y="220.4" width="10" height="2.8" fill="#08080a" rx="1.33" opacity="0.04" filter="url(#b1)"/>
</g>
<rect x="37.5" y="215.8" width="53" height="12.1" fill="none" stroke="#4c5054" stroke-width="0.6"/>
<text x="33.1" y="224.1" font-size="7.3" fill="#1a1a1a" stroke="#1a1a1a" stroke-width="0.15" text-anchor="end">ICAM1</text>
<text x="91.5" y="224.5" font-size="5.4" fill="#1a1a1a" stroke="#1a1a1a" stroke-width="0.11">-100kDa</text>
<clipPath id="bc2"><rect x="37.5" y="230" width="53" height="12.5"/></clipPath>
<rect x="37.5" y="230" width="53" height="12.5" fill="#c6c9cd"/>
<g clip-path="url(#bc2)">
<rect x="38" y="233" width="52" height="8" fill="#1c1d20" rx="4" opacity="0.08" filter="url(#b2)"/>
<rect x="40.7" y="233.7" width="13.6" height="7.2" fill="#08080a" rx="2.4" opacity="1" filter="url(#b1)"/>
<rect x="41.5" y="234.8" width="12" height="5.4" fill="#08080a" rx="2.4" opacity="1" filter="url(#b1)"/>
<rect x="58.8" y="233.7" width="11.2" height="3" fill="#08080a" rx="1.42" opacity="0.95" filter="url(#b1)"/>
<rect x="59.6" y="234.4" width="9.6" height="1.6" fill="#08080a" rx="0.76" opacity="0.7" filter="url(#b07)"/>
<rect x="75.8" y="233.6" width="10.8" height="2.6" fill="#08080a" rx="1.23" opacity="0.8" filter="url(#b1)"/>
<rect x="76.6" y="234.2" width="9.2" height="1.4" fill="#08080a" rx="0.66" opacity="0.5" filter="url(#b07)"/>
</g>
<rect x="37.5" y="230" width="53" height="12.5" fill="none" stroke="#4c5054" stroke-width="0.6"/>
<text x="33.1" y="238.6" font-size="7.3" fill="#1a1a1a" stroke="#1a1a1a" stroke-width="0.15" text-anchor="end">β-catenin</text>
<text x="91.5" y="237.8" font-size="5.4" fill="#1a1a1a" stroke="#1a1a1a" stroke-width="0.11">-100kDa</text>
<clipPath id="bc3"><rect x="37.5" y="244.1" width="53" height="11.9"/></clipPath>
<rect x="37.5" y="244.1" width="53" height="11.9" fill="#a6aaae"/>
<g clip-path="url(#bc3)">
<rect x="38" y="245" width="52" height="10" fill="#1c1d20" rx="5" opacity="0.15" filter="url(#b2)"/>
<rect x="39.9" y="246.1" width="14" height="7.2" fill="#08080a" rx="2.4" opacity="1" filter="url(#b1)"/>
<rect x="40.7" y="247" width="12.4" height="5.4" fill="#08080a" rx="2.4" opacity="1" filter="url(#b1)"/>
<rect x="57.5" y="247" width="11.8" height="3.6" fill="#08080a" rx="1.71" opacity="0.95" filter="url(#b1)"/>
<rect x="58.4" y="247.8" width="10" height="2" fill="#08080a" rx="0.95" opacity="0.7" filter="url(#b07)"/>
<rect x="74.1" y="247.5" width="12.4" height="4.8" fill="#08080a" rx="2.28" opacity="1" filter="url(#b1)"/>
<rect x="75.1" y="248.4" width="10.4" height="3" fill="#08080a" rx="1.42" opacity="0.8" filter="url(#b1)"/>
</g>
<rect x="37.5" y="244.1" width="53" height="11.9" fill="none" stroke="#4c5054" stroke-width="0.6"/>
<text x="33.1" y="252.8" font-size="7.3" fill="#1a1a1a" stroke="#1a1a1a" stroke-width="0.15" text-anchor="end">Cyclin D1</text>
<text x="91.5" y="256.1" font-size="5.4" fill="#1a1a1a" stroke="#1a1a1a" stroke-width="0.11">-35kDa</text>
<clipPath id="bc4"><rect x="37.5" y="257.7" width="53" height="12.1"/></clipPath>
<rect x="37.5" y="257.7" width="53" height="12.1" fill="#cfd2d5"/>
<g clip-path="url(#bc4)">
<rect x="56" y="261" width="36" height="8" fill="#1c1d20" rx="4" opacity="0.1" filter="url(#b2)"/>
<rect x="40.5" y="259.9" width="8" height="1.8" fill="#08080a" rx="0.85" opacity="0.15" filter="url(#b1)"/>
<rect x="57.1" y="260.8" width="14" height="7.2" fill="#08080a" rx="2.4" opacity="1" filter="url(#b1)"/>
<rect x="57.9" y="262.1" width="12.4" height="5.4" fill="#08080a" rx="2.4" opacity="1" filter="url(#b1)"/>
<rect x="65" y="266.4" width="7" height="2" fill="#08080a" rx="0.95" opacity="0.6" filter="url(#b1)"/>
<rect x="75.2" y="262.2" width="10.8" height="2.6" fill="#08080a" rx="1.23" opacity="0.95" filter="url(#b07)"/>
<rect x="76.2" y="262.9" width="8.8" height="1.2" fill="#08080a" rx="0.57" opacity="0.6" filter="url(#b07)"/>
<rect x="76" y="266" width="10" height="1.8" fill="#08080a" rx="0.85" opacity="0.85" filter="url(#b07)"/>
</g>
<rect x="37.5" y="257.7" width="53" height="12.1" fill="none" stroke="#4c5054" stroke-width="0.6"/>
<text x="33.1" y="267" font-size="7.3" fill="#1a1a1a" stroke="#1a1a1a" stroke-width="0.15" text-anchor="end">Axin2</text>
<text x="91.5" y="269.9" font-size="5.4" fill="#1a1a1a" stroke="#1a1a1a" stroke-width="0.11">-70kDa</text>
<clipPath id="bc5"><rect x="37.5" y="271.4" width="53" height="12.2"/></clipPath>
<rect x="37.5" y="271.4" width="53" height="12.2" fill="#c6c9cd"/>
<g clip-path="url(#bc5)">
<rect x="38" y="275" width="52" height="6" fill="#1c1d20" rx="3" opacity="0.15" filter="url(#b2)"/>
<rect x="40.4" y="276.8" width="12.4" height="4" fill="#08080a" rx="1.9" opacity="1" filter="url(#b1)"/>
<rect x="56.2" y="276.3" width="12.6" height="4" fill="#08080a" rx="1.9" opacity="1" filter="url(#b1)"/>
<rect x="74" y="276" width="12.6" height="4.4" fill="#08080a" rx="2.09" opacity="1" filter="url(#b1)"/>
<rect x="41.2" y="277.6" width="10.8" height="2.4" fill="#08080a" rx="1.14" opacity="0.9" filter="url(#b07)"/>
<rect x="57" y="277.1" width="11" height="2.4" fill="#08080a" rx="1.14" opacity="0.9" filter="url(#b07)"/>
<rect x="74.8" y="276.8" width="11" height="2.8" fill="#08080a" rx="1.33" opacity="0.9" filter="url(#b07)"/>
</g>
<rect x="37.5" y="271.4" width="53" height="12.2" fill="none" stroke="#4c5054" stroke-width="0.6"/>
<text x="33.1" y="279.9" font-size="7.3" fill="#1a1a1a" stroke="#1a1a1a" stroke-width="0.15" text-anchor="end">GAPDH</text>
<text x="91.5" y="283.6" font-size="5.4" fill="#1a1a1a" stroke="#1a1a1a" stroke-width="0.11">-35kDa</text>
</g>
<g id="pc">
<text x="136.8" y="186.9" font-size="10" fill="#000" stroke="#000" stroke-width="0.21" font-weight="bold">c</text>
<text x="210" y="187.4" font-size="9" fill="#1a1a1a" stroke="#1a1a1a" stroke-width="0.18" text-anchor="middle">83</text>
<polyline points="157.5,197.8 157.5,193.5 263.5,193.5 263.5,197.8" fill="none" stroke="#444" stroke-width="0.6" stroke-linejoin="round"/>
<text x="187.7" y="208" font-size="9" fill="#1a1a1a" stroke="#1a1a1a" stroke-width="0.18" text-anchor="middle">Nucleus</text>
<text x="237.9" y="208" font-size="9" fill="#1a1a1a" stroke="#1a1a1a" stroke-width="0.18" text-anchor="middle">Cytoplasm</text>
<line x1="163.4" y1="212.4" x2="207.3" y2="212.4" stroke="#333" stroke-width="0.7"/>
<line x1="213" y1="212.4" x2="257" y2="212.4" stroke="#333" stroke-width="0.7"/>
<text x="154.2" y="226.1" font-size="7.3" fill="#1a1a1a" stroke="#1a1a1a" stroke-width="0.15" text-anchor="end">shICAM1</text>
<text x="167.1" y="226.1" font-size="7.3" fill="#1a1a1a" stroke="#1a1a1a" stroke-width="0.15" text-anchor="middle">Ctrl</text>
<text x="184" y="226.1" font-size="7.3" fill="#1a1a1a" stroke="#1a1a1a" stroke-width="0.15" text-anchor="middle">#1</text>
<text x="200.6" y="226.1" font-size="7.3" fill="#1a1a1a" stroke="#1a1a1a" stroke-width="0.15" text-anchor="middle">#2</text>
<text x="218.5" y="226.1" font-size="7.3" fill="#1a1a1a" stroke="#1a1a1a" stroke-width="0.15" text-anchor="middle">Ctrl</text>
<text x="235.4" y="226.1" font-size="7.3" fill="#1a1a1a" stroke="#1a1a1a" stroke-width="0.15" text-anchor="middle">#1</text>
<text x="252.8" y="226.1" font-size="7.3" fill="#1a1a1a" stroke="#1a1a1a" stroke-width="0.15" text-anchor="middle">#2</text>
<clipPath id="bc6"><rect x="157.2" y="235.8" width="105.5" height="12.9"/></clipPath>
<rect x="157.2" y="235.8" width="105.5" height="12.9" fill="#d9dcdf"/>
<g clip-path="url(#bc6)">
<rect x="161.2" y="240.5" width="13.2" height="2.8" fill="#08080a" rx="1.33" opacity="1" filter="url(#b07)"/>
<rect x="162.4" y="241.2" width="10.8" height="1.4" fill="#08080a" rx="0.66" opacity="0.7" filter="url(#b07)"/>
<rect x="179.6" y="241.3" width="10" height="1.8" fill="#08080a" rx="0.85" opacity="0.16" filter="url(#b1)"/>
<rect x="196" y="241.3" width="10" height="1.8" fill="#08080a" rx="0.85" opacity="0.12" filter="url(#b1)"/>
<rect x="212.4" y="240.5" width="12.4" height="2.8" fill="#08080a" rx="1.33" opacity="0.9" filter="url(#b07)"/>
<rect x="229.2" y="240.8" width="12" height="2.6" fill="#08080a" rx="1.23" opacity="0.65" filter="url(#b07)"/>
<rect x="245.8" y="240.8" width="12" height="2.6" fill="#08080a" rx="1.23" opacity="0.6" filter="url(#b07)"/>
</g>
<rect x="157.2" y="235.8" width="105.5" height="12.9" fill="none" stroke="#4c5054" stroke-width="0.6"/>
<text x="154.2" y="244.65" font-size="7.3" fill="#1a1a1a" stroke="#1a1a1a" stroke-width="0.15" text-anchor="end">β-catenin</text>
<text x="263.8" y="244.4" font-size="5.4" fill="#1a1a1a" stroke="#1a1a1a" stroke-width="0.11">-100kDa</text>
<clipPath id="bc7"><rect x="157.2" y="250.1" width="105.5" height="12.5"/></clipPath>
<rect x="157.2" y="250.1" width="105.5" height="12.5" fill="#d8dbde"/>
<g clip-path="url(#bc7)">
<rect x="160.6" y="253.7" width="13.6" height="3.8" fill="#08080a" rx="1.8" opacity="1" filter="url(#b07)"/>
<rect x="177.6" y="254" width="13.6" height="3.6" fill="#08080a" rx="1.71" opacity="1" filter="url(#b07)"/>
<rect x="194.4" y="254" width="14" height="3.8" fill="#08080a" rx="1.8" opacity="1" filter="url(#b07)"/>
<rect x="161.8" y="254.6" width="11.2" height="2" fill="#08080a" rx="0.95" opacity="0.8" filter="url(#b1)"/>
<rect x="178.8" y="254.8" width="11.2" height="2" fill="#08080a" rx="0.95" opacity="0.8" filter="url(#b1)"/>
<rect x="195.6" y="254.9" width="11.6" height="2" fill="#08080a" rx="0.95" opacity="0.8" filter="url(#b1)"/>
</g>
<rect x="157.2" y="250.1" width="105.5" height="12.5" fill="none" stroke="#4c5054" stroke-width="0.6"/>
<text x="154.2" y="258.75" font-size="7.3" fill="#1a1a1a" stroke="#1a1a1a" stroke-width="0.15" text-anchor="end">Lamin B</text>
<text x="263.8" y="258.3" font-size="5.4" fill="#1a1a1a" stroke="#1a1a1a" stroke-width="0.11">-70kDa</text>
<clipPath id="bc8"><rect x="157.2" y="263.8" width="105.5" height="12.9"/></clipPath>
<rect x="157.2" y="263.8" width="105.5" height="12.9" fill="#d9dcdf"/>
<g clip-path="url(#bc8)">
<rect x="213.2" y="267.7" width="15.2" height="3.8" fill="#08080a" rx="1.8" opacity="1" filter="url(#b07)"/>
<rect x="230.8" y="267.8" width="12" height="3.6" fill="#08080a" rx="1.71" opacity="1" filter="url(#b07)"/>
<rect x="245.9" y="267.8" width="12" height="3.6" fill="#08080a" rx="1.71" opacity="1" filter="url(#b07)"/>
<rect x="214.4" y="268.6" width="12.8" height="2" fill="#08080a" rx="0.95" opacity="0.8" filter="url(#b1)"/>
<rect x="232" y="268.6" width="9.6" height="2" fill="#08080a" rx="0.95" opacity="0.8" filter="url(#b1)"/>
<rect x="247.1" y="268.6" width="9.6" height="2" fill="#08080a" rx="0.95" opacity="0.8" filter="url(#b1)"/>
</g>
<rect x="157.2" y="263.8" width="105.5" height="12.9" fill="none" stroke="#4c5054" stroke-width="0.6"/>
<text x="154.2" y="272.65" font-size="7.3" fill="#1a1a1a" stroke="#1a1a1a" stroke-width="0.15" text-anchor="end">α-Tubulin</text>
<text x="263.8" y="269.2" font-size="5.4" fill="#1a1a1a" stroke="#1a1a1a" stroke-width="0.11">-55kDa</text>
</g>
<g id="pd">
<text x="291.8" y="186.8" font-size="10" fill="#000" stroke="#000" stroke-width="0.21" font-weight="bold">d</text>
<text x="361.9" y="187.4" font-size="9" fill="#1a1a1a" stroke="#1a1a1a" stroke-width="0.18" text-anchor="middle">293T</text>
<line x1="316.7" y1="207.9" x2="316.7" y2="289.5" stroke="#2a2a2a" stroke-width="0.75"/>
<line x1="316.4" y1="289.2" x2="409.7" y2="289.2" stroke="#2a2a2a" stroke-width="0.75"/>
<line x1="314.1" y1="289.2" x2="316.7" y2="289.2" stroke="#2a2a2a" stroke-width="0.75"/>
<text x="313.1" y="291.9" font-size="7.3" fill="#1a1a1a" stroke="#1a1a1a" stroke-width="0.15" text-anchor="end">0</text>
<line x1="314.1" y1="262.2" x2="316.7" y2="262.2" stroke="#2a2a2a" stroke-width="0.75"/>
<text x="313.1" y="264.9" font-size="7.3" fill="#1a1a1a" stroke="#1a1a1a" stroke-width="0.15" text-anchor="end">10</text>
<line x1="314.1" y1="235.2" x2="316.7" y2="235.2" stroke="#2a2a2a" stroke-width="0.75"/>
<text x="313.1" y="237.9" font-size="7.3" fill="#1a1a1a" stroke="#1a1a1a" stroke-width="0.15" text-anchor="end">20</text>
<line x1="314.1" y1="208.2" x2="316.7" y2="208.2" stroke="#2a2a2a" stroke-width="0.75"/>
<text x="313.1" y="210.9" font-size="7.3" fill="#1a1a1a" stroke="#1a1a1a" stroke-width="0.15" text-anchor="end">30</text>
<line x1="335.2" y1="289.2" x2="335.2" y2="291.8" stroke="#2a2a2a" stroke-width="0.75"/>
<line x1="362.9" y1="289.2" x2="362.9" y2="291.8" stroke="#2a2a2a" stroke-width="0.75"/>
<line x1="390.8" y1="289.2" x2="390.8" y2="291.8" stroke="#2a2a2a" stroke-width="0.75"/>
<text font-size="7.3" fill="#1a1a1a" stroke="#1a1a1a" stroke-width="0.15" text-anchor="middle" transform="translate(300.2 246.7) rotate(-90)">Relative luciferase activity</text>
<rect x="326" y="286.5" width="18.4" height="2.7" fill="none" stroke="#f0342a" stroke-width="0.95"/>
<line x1="335.2" y1="288.66" x2="335.2" y2="284.61" stroke="#f0342a" stroke-width="0.85"/>
<line x1="330.7" y1="284.61" x2="339.7" y2="284.61" stroke="#f0342a" stroke-width="0.85"/>
<line x1="330.7" y1="288.66" x2="339.7" y2="288.66" stroke="#f0342a" stroke-width="0.85"/>
<rect x="353.7" y="273.27" width="18.4" height="15.93" fill="none" stroke="#4fd68a" stroke-width="0.95"/>
<line x1="362.9" y1="281.37" x2="362.9" y2="264.36" stroke="#4fd68a" stroke-width="0.85"/>
<line x1="358.4" y1="264.36" x2="367.4" y2="264.36" stroke="#4fd68a" stroke-width="0.85"/>
<line x1="358.4" y1="281.37" x2="367.4" y2="281.37" stroke="#4fd68a" stroke-width="0.85"/>
<rect x="381.6" y="228.72" width="18.4" height="60.48" fill="none" stroke="#4a86dc" stroke-width="0.95"/>
<line x1="390.8" y1="244.38" x2="390.8" y2="213.06" stroke="#4a86dc" stroke-width="0.85"/>
<line x1="386.3" y1="213.06" x2="395.3" y2="213.06" stroke="#4a86dc" stroke-width="0.85"/>
<line x1="386.3" y1="244.38" x2="395.3" y2="244.38" stroke="#4a86dc" stroke-width="0.85"/>
<circle cx="331.6" cy="285.15" r="1.8" fill="#f0241c"/>
<circle cx="338.8" cy="285.42" r="1.8" fill="#f0241c"/>
<circle cx="335.2" cy="289.2" r="1.8" fill="#f0241c"/>
<rect x="361.1" y="261.75" width="3.6" height="3.6" fill="#3fd07a"/>
<rect x="357.6" y="277.41" width="3.6" height="3.6" fill="#3fd07a"/>
<rect x="364.8" y="275.52" width="3.6" height="3.6" fill="#3fd07a"/>
<polygon points="390.8,211.33 392.8,214.63 388.8,214.63" fill="#2f66c8"/>
<polygon points="390.8,226.99 392.8,230.29 388.8,230.29" fill="#2f66c8"/>
<polygon points="390.8,242.38 392.8,245.68 388.8,245.68" fill="#2f66c8"/>
<polyline points="335.2,206.1 335.2,201.5 390.8,201.5 390.8,206.1" fill="none" stroke="#444" stroke-width="0.4" stroke-linejoin="round"/>
<text x="360.4" y="198.4" font-size="4.4" fill="#1a1a1a" stroke="#1a1a1a" stroke-width="0.09" text-anchor="middle"><tspan font-style="italic">P</tspan> = 0.0011</text>
<polyline points="362.9,213.5 362.9,208.8 390.8,208.8 390.8,213.5" fill="none" stroke="#444" stroke-width="0.4" stroke-linejoin="round"/>
<text x="375.1" y="207.6" font-size="4.4" fill="#1a1a1a" stroke="#1a1a1a" stroke-width="0.09" text-anchor="middle"><tspan font-style="italic">P</tspan> = 0.0042</text>
<polyline points="335.2,256 335.2,251.4 362.9,251.4 362.9,256" fill="none" stroke="#444" stroke-width="0.4" stroke-linejoin="round"/>
<text x="348.2" y="250.2" font-size="4.4" fill="#1a1a1a" stroke="#1a1a1a" stroke-width="0.09" text-anchor="middle"><tspan font-style="italic">P</tspan> &gt; 0.05</text>
<text x="294.6" y="300.8" font-size="7.3" fill="#1a1a1a" stroke="#1a1a1a" stroke-width="0.15">ICAM1</text>
<text x="335.2" y="300.8" font-size="7.3" fill="#1a1a1a" stroke="#1a1a1a" stroke-width="0.15" text-anchor="middle">0</text>
<text x="362.9" y="300.8" font-size="7.3" fill="#1a1a1a" stroke="#1a1a1a" stroke-width="0.15" text-anchor="middle">1</text>
<text x="390.8" y="300.8" font-size="7.3" fill="#1a1a1a" stroke="#1a1a1a" stroke-width="0.15" text-anchor="middle">2</text>
<text x="399.4" y="300.8" font-size="7.3" fill="#1a1a1a" stroke="#1a1a1a" stroke-width="0.15">μg</text>
<text x="302.4" y="311.9" font-size="7.3" fill="#1a1a1a" stroke="#1a1a1a" stroke-width="0.15">TCF</text>
<text x="335.2" y="310.6" font-size="6.2" fill="#1a1a1a" stroke="#1a1a1a" stroke-width="0.13" text-anchor="middle">+</text>
<text x="362.9" y="310.6" font-size="6.2" fill="#1a1a1a" stroke="#1a1a1a" stroke-width="0.13" text-anchor="middle">+</text>
<text x="390.8" y="310.6" font-size="6.2" fill="#1a1a1a" stroke="#1a1a1a" stroke-width="0.13" text-anchor="middle">+</text>
</g>
<g id="pe">
<text x="423.4" y="186.8" font-size="10" fill="#000" stroke="#000" stroke-width="0.21" font-weight="bold">e</text>
<text x="485.1" y="187.4" font-size="9" fill="#1a1a1a" stroke="#1a1a1a" stroke-width="0.18" text-anchor="middle">X01</text>
<polyline points="453.5,194.8 453.5,190.5 520.6,190.5 520.6,194.8" fill="none" stroke="#444" stroke-width="0.6" stroke-linejoin="round"/>
<text x="449.9" y="203.8" font-size="7.3" fill="#1a1a1a" stroke="#1a1a1a" stroke-width="0.15" text-anchor="end">ICAM1</text>
<text x="449.9" y="216.4" font-size="7.3" fill="#1a1a1a" stroke="#1a1a1a" stroke-width="0.15" text-anchor="end">ICG001</text>
<text x="461" y="204.2" font-size="6.6" fill="#1a1a1a" stroke="#1a1a1a" stroke-width="0.14" text-anchor="middle">-</text>
<text x="477.6" y="204.2" font-size="6.6" fill="#1a1a1a" stroke="#1a1a1a" stroke-width="0.14" text-anchor="middle">+</text>
<text x="495" y="204.2" font-size="6.6" fill="#1a1a1a" stroke="#1a1a1a" stroke-width="0.14" text-anchor="middle">-</text>
<text x="512.9" y="204.2" font-size="6.6" fill="#1a1a1a" stroke="#1a1a1a" stroke-width="0.14" text-anchor="middle">+</text>
<text x="461" y="216.8" font-size="6.6" fill="#1a1a1a" stroke="#1a1a1a" stroke-width="0.14" text-anchor="middle">-</text>
<text x="477.6" y="216.8" font-size="6.6" fill="#1a1a1a" stroke="#1a1a1a" stroke-width="0.14" text-anchor="middle">-</text>
<text x="495" y="216.8" font-size="6.6" fill="#1a1a1a" stroke="#1a1a1a" stroke-width="0.14" text-anchor="middle">+</text>
<text x="512.9" y="216.8" font-size="6.6" fill="#1a1a1a" stroke="#1a1a1a" stroke-width="0.14" text-anchor="middle">+</text>
<clipPath id="bc9"><rect x="453.5" y="222.1" width="70.3" height="12.3"/></clipPath>
<rect x="453.5" y="222.1" width="70.3" height="12.3" fill="#cdd0d3"/>
<g clip-path="url(#bc9)">
<rect x="488" y="222" width="17" height="12" fill="#1c1d20" rx="6" opacity="0.35" filter="url(#b2)"/>
<rect x="505.5" y="222" width="16" height="12" fill="#1c1d20" rx="6" opacity="0.3" filter="url(#b2)"/>
<rect x="471.5" y="222" width="16" height="12" fill="#1c1d20" rx="6" opacity="0.2" filter="url(#b2)"/>
<rect x="472.9" y="224.4" width="13.2" height="9.2" fill="#08080a" rx="2.4" opacity="0.75" filter="url(#b1)"/>
<rect x="473.1" y="227.8" width="12.8" height="5.2" fill="#08080a" rx="2.4" opacity="1" filter="url(#b1)"/>
<rect x="489.1" y="223.1" width="14.8" height="10.8" fill="#08080a" rx="2.4" opacity="1" filter="url(#b1)"/>
<rect x="489.9" y="224.4" width="13.2" height="8.8" fill="#08080a" rx="2.4" opacity="1" filter="url(#b1)"/>
<rect x="506.7" y="223.4" width="13.6" height="10" fill="#08080a" rx="2.4" opacity="1" filter="url(#b1)"/>
<rect x="507.5" y="225" width="12" height="7.6" fill="#08080a" rx="2.4" opacity="1" filter="url(#b1)"/>
</g>
<rect x="453.5" y="222.1" width="70.3" height="12.3" fill="none" stroke="#4c5054" stroke-width="0.6"/>
<text x="449.9" y="230.65" font-size="7.3" fill="#1a1a1a" stroke="#1a1a1a" stroke-width="0.15" text-anchor="end">ICAM1</text>
<text x="524.2" y="234.2" font-size="5.4" fill="#1a1a1a" stroke="#1a1a1a" stroke-width="0.11">-100kDa</text>
<clipPath id="bc10"><rect x="453.5" y="236.3" width="70.3" height="12.6"/></clipPath>
<rect x="453.5" y="236.3" width="70.3" height="12.6" fill="#a4a8ac"/>
<g clip-path="url(#bc10)">
<rect x="452" y="236" width="72" height="14" fill="#1c1d20" rx="7" opacity="0.5" filter="url(#b2)"/>
<rect x="455.2" y="240.7" width="13.6" height="3.4" fill="#08080a" rx="1.61" opacity="0.9" filter="url(#b1)"/>
<rect x="456.4" y="241.6" width="11.2" height="1.6" fill="#08080a" rx="0.76" opacity="0.6" filter="url(#b07)"/>
<rect x="471.6" y="240.1" width="14.8" height="4.4" fill="#08080a" rx="2.09" opacity="1" filter="url(#b1)"/>
<rect x="472.6" y="241" width="12.8" height="2.6" fill="#08080a" rx="1.23" opacity="0.9" filter="url(#b1)"/>
<rect x="490" y="242.4" width="13" height="2.4" fill="#08080a" rx="1.14" opacity="0.2" filter="url(#b1)"/>
<rect x="507" y="242.4" width="13" height="2.4" fill="#08080a" rx="1.14" opacity="0.15" filter="url(#b1)"/>
</g>
<rect x="453.5" y="236.3" width="70.3" height="12.6" fill="none" stroke="#4c5054" stroke-width="0.6"/>
<text x="449.9" y="245" font-size="7.3" fill="#1a1a1a" stroke="#1a1a1a" stroke-width="0.15" text-anchor="end">Nestin</text>
<text x="524.2" y="249.6" font-size="5.4" fill="#1a1a1a" stroke="#1a1a1a" stroke-width="0.11">-130kDa</text>
<clipPath id="bc11"><rect x="453.5" y="250.2" width="70.3" height="12.5"/></clipPath>
<rect x="453.5" y="250.2" width="70.3" height="12.5" fill="#c7cacd"/>
<g clip-path="url(#bc11)">
<rect x="452" y="253" width="72" height="10" fill="#1c1d20" rx="5" opacity="0.1" filter="url(#b2)"/>
<rect x="456.5" y="255" width="12" height="2.8" fill="#08080a" rx="1.33" opacity="0.2" filter="url(#b1)"/>
<rect x="472.4" y="251.4" width="15.2" height="10.4" fill="#08080a" rx="2.4" opacity="1" filter="url(#b1)"/>
<rect x="473.2" y="252.6" width="13.6" height="8.4" fill="#08080a" rx="2.4" opacity="1" filter="url(#b1)"/>
<rect x="489.9" y="253.4" width="13.2" height="3.4" fill="#08080a" rx="1.61" opacity="1" filter="url(#b1)"/>
<rect x="491.1" y="254.3" width="10.8" height="1.6" fill="#08080a" rx="0.76" opacity="0.7" filter="url(#b07)"/>
<rect x="506.6" y="253.6" width="12.8" height="2.8" fill="#08080a" rx="1.33" opacity="0.8" filter="url(#b1)"/>
<rect x="508" y="254.4" width="10" height="1.2" fill="#08080a" rx="0.57" opacity="0.5" filter="url(#b07)"/>
</g>
<rect x="453.5" y="250.2" width="70.3" height="12.5" fill="none" stroke="#4c5054" stroke-width="0.6"/>
<text x="449.9" y="258.85" font-size="7.3" fill="#1a1a1a" stroke="#1a1a1a" stroke-width="0.15" text-anchor="end">β-catenin</text>
<text x="524.2" y="257.3" font-size="5.4" fill="#1a1a1a" stroke="#1a1a1a" stroke-width="0.11">-100kDa</text>
<clipPath id="bc12"><rect x="453.5" y="264.3" width="70.3" height="12.6"/></clipPath>
<rect x="453.5" y="264.3" width="70.3" height="12.6" fill="#a6aaae"/>
<g clip-path="url(#bc12)">
<rect x="452" y="265" width="72" height="12" fill="#1c1d20" rx="6" opacity="0.42" filter="url(#b2)"/>
<rect x="456" y="268.2" width="13" height="4" fill="#08080a" rx="1.9" opacity="0.35" filter="url(#b1)"/>
<rect x="472.5" y="267.8" width="14" height="5.2" fill="#08080a" rx="2.4" opacity="0.95" filter="url(#b1)"/>
<rect x="490" y="269" width="13" height="2.8" fill="#08080a" rx="1.33" opacity="0.5" filter="url(#b1)"/>
<rect x="507.5" y="268.4" width="12" height="3.2" fill="#08080a" rx="1.52" opacity="0.45" filter="url(#b1)"/>
</g>
<rect x="453.5" y="264.3" width="70.3" height="12.6" fill="none" stroke="#4c5054" stroke-width="0.6"/>
<text x="449.9" y="273" font-size="7.3" fill="#1a1a1a" stroke="#1a1a1a" stroke-width="0.15" text-anchor="end">Cyclin D1</text>
<text x="524.2" y="275.2" font-size="5.4" fill="#1a1a1a" stroke="#1a1a1a" stroke-width="0.11">-35kDa</text>
<clipPath id="bc13"><rect x="453.5" y="278.7" width="70.3" height="12.4"/></clipPath>
<rect x="453.5" y="278.7" width="70.3" height="12.4" fill="#c3c7ca"/>
<g clip-path="url(#bc13)">
<rect x="455.7" y="284.1" width="13.6" height="2.6" fill="#08080a" rx="1.23" opacity="0.8" filter="url(#b1)"/>
<rect x="456.9" y="284.8" width="11.2" height="1.2" fill="#08080a" rx="0.57" opacity="0.7" filter="url(#b07)"/>
<rect x="471.7" y="283" width="15.6" height="3.8" fill="#08080a" rx="1.8" opacity="0.9" filter="url(#b1)"/>
<rect x="472.9" y="283.9" width="13.2" height="2" fill="#08080a" rx="0.95" opacity="0.9" filter="url(#b07)"/>
<rect x="489.3" y="283.4" width="14.4" height="3.2" fill="#08080a" rx="1.52" opacity="0.9" filter="url(#b1)"/>
<rect x="490.5" y="284.2" width="12" height="1.6" fill="#08080a" rx="0.76" opacity="0.8" filter="url(#b07)"/>
<rect x="505.8" y="282.8" width="16.4" height="4" fill="#08080a" rx="1.9" opacity="0.9" filter="url(#b1)"/>
<rect x="507" y="283.7" width="14" height="2.2" fill="#08080a" rx="1.04" opacity="0.9" filter="url(#b07)"/>
</g>
<rect x="453.5" y="278.7" width="70.3" height="12.4" fill="none" stroke="#4c5054" stroke-width="0.6"/>
<text x="449.9" y="287.3" font-size="7.3" fill="#1a1a1a" stroke="#1a1a1a" stroke-width="0.15" text-anchor="end">GAPDH</text>
<text x="524.2" y="290.7" font-size="5.4" fill="#1a1a1a" stroke="#1a1a1a" stroke-width="0.11">-35kDa</text>
<text x="561.2" y="186.8" font-size="10" fill="#000" stroke="#000" stroke-width="0.21" font-weight="bold">f</text>
<text x="623.1" y="187.4" font-size="9" fill="#1a1a1a" stroke="#1a1a1a" stroke-width="0.18" text-anchor="middle">131</text>
<polyline points="589.7,194.8 589.7,190.5 657.9,190.5 657.9,194.8" fill="none" stroke="#444" stroke-width="0.6" stroke-linejoin="round"/>
<text x="587" y="203.8" font-size="7.3" fill="#1a1a1a" stroke="#1a1a1a" stroke-width="0.15" text-anchor="end">ICAM1</text>
<text x="587" y="216.4" font-size="7.3" fill="#1a1a1a" stroke="#1a1a1a" stroke-width="0.15" text-anchor="end">ICG001</text>
<text x="599.2" y="204.2" font-size="6.6" fill="#1a1a1a" stroke="#1a1a1a" stroke-width="0.14" text-anchor="middle">-</text>
<text x="615.3" y="204.2" font-size="6.6" fill="#1a1a1a" stroke="#1a1a1a" stroke-width="0.14" text-anchor="middle">+</text>
<text x="633.2" y="204.2" font-size="6.6" fill="#1a1a1a" stroke="#1a1a1a" stroke-width="0.14" text-anchor="middle">-</text>
<text x="651" y="204.2" font-size="6.6" fill="#1a1a1a" stroke="#1a1a1a" stroke-width="0.14" text-anchor="middle">+</text>
<text x="599.2" y="216.8" font-size="6.6" fill="#1a1a1a" stroke="#1a1a1a" stroke-width="0.14" text-anchor="middle">-</text>
<text x="615.3" y="216.8" font-size="6.6" fill="#1a1a1a" stroke="#1a1a1a" stroke-width="0.14" text-anchor="middle">-</text>
<text x="633.2" y="216.8" font-size="6.6" fill="#1a1a1a" stroke="#1a1a1a" stroke-width="0.14" text-anchor="middle">+</text>
<text x="651" y="216.8" font-size="6.6" fill="#1a1a1a" stroke="#1a1a1a" stroke-width="0.14" text-anchor="middle">+</text>
<clipPath id="bc14"><rect x="590.1" y="222.3" width="70.3" height="12.1"/></clipPath>
<rect x="590.1" y="222.3" width="70.3" height="12.1" fill="#ccd0d3"/>
<g clip-path="url(#bc14)">
<rect x="608" y="223.5" width="16" height="10" fill="#1c1d20" rx="5" opacity="0.12" filter="url(#b2)"/>
<rect x="626" y="225" width="16" height="10" fill="#1c1d20" rx="5" opacity="0.12" filter="url(#b2)"/>
<rect x="643" y="223.5" width="16" height="10" fill="#1c1d20" rx="5" opacity="0.12" filter="url(#b2)"/>
<rect x="594" y="228.2" width="11" height="2.8" fill="#08080a" rx="1.33" opacity="0.15" filter="url(#b1)"/>
<rect x="609.3" y="225.3" width="14" height="6.4" fill="#08080a" rx="2.4" opacity="1" filter="url(#b1)"/>
<rect x="610.1" y="226.2" width="12.4" height="4.6" fill="#08080a" rx="2.18" opacity="1" filter="url(#b1)"/>
<rect x="627.2" y="227.2" width="13.6" height="6" fill="#08080a" rx="2.4" opacity="1" filter="url(#b1)"/>
<rect x="628" y="228.6" width="12" height="4" fill="#08080a" rx="1.9" opacity="1" filter="url(#b1)"/>
<rect x="644" y="225" width="14" height="7.2" fill="#08080a" rx="2.4" opacity="1" filter="url(#b1)"/>
<rect x="644.8" y="226" width="12.4" height="5.2" fill="#08080a" rx="2.4" opacity="1" filter="url(#b1)"/>
</g>
<rect x="590.1" y="222.3" width="70.3" height="12.1" fill="none" stroke="#4c5054" stroke-width="0.6"/>
<text x="587" y="230.75" font-size="7.3" fill="#1a1a1a" stroke="#1a1a1a" stroke-width="0.15" text-anchor="end">ICAM1</text>
<text x="660.9" y="229.6" font-size="5.4" fill="#1a1a1a" stroke="#1a1a1a" stroke-width="0.11">-100kDa</text>
<clipPath id="bc15"><rect x="590.1" y="236.3" width="70.3" height="12.6"/></clipPath>
<rect x="590.1" y="236.3" width="70.3" height="12.6" fill="#a8acb0"/>
<g clip-path="url(#bc15)">
<rect x="589" y="236" width="72" height="14" fill="#1c1d20" rx="7" opacity="0.45" filter="url(#b2)"/>
<rect x="592.1" y="241.2" width="14.8" height="4" fill="#08080a" rx="1.9" opacity="1" filter="url(#b1)"/>
<rect x="593.3" y="242.2" width="12.4" height="2" fill="#08080a" rx="0.95" opacity="0.6" filter="url(#b07)"/>
<rect x="608.6" y="240.6" width="14.8" height="4.8" fill="#08080a" rx="2.28" opacity="1" filter="url(#b1)"/>
<rect x="609.6" y="241.5" width="12.8" height="3" fill="#08080a" rx="1.42" opacity="0.8" filter="url(#b1)"/>
<rect x="627.5" y="242.6" width="13" height="2.8" fill="#08080a" rx="1.33" opacity="0.25" filter="url(#b1)"/>
<rect x="644.5" y="242.6" width="13" height="2.8" fill="#08080a" rx="1.33" opacity="0.15" filter="url(#b1)"/>
</g>
<rect x="590.1" y="236.3" width="70.3" height="12.6" fill="none" stroke="#4c5054" stroke-width="0.6"/>
<text x="587" y="245" font-size="7.3" fill="#1a1a1a" stroke="#1a1a1a" stroke-width="0.15" text-anchor="end">Nestin</text>
<text x="660.9" y="249.1" font-size="5.4" fill="#1a1a1a" stroke="#1a1a1a" stroke-width="0.11">-130kDa</text>
<clipPath id="bc16"><rect x="590.1" y="250.2" width="70.3" height="12.5"/></clipPath>
<rect x="590.1" y="250.2" width="70.3" height="12.5" fill="#b4b8bc"/>
<g clip-path="url(#bc16)">
<rect x="589" y="251" width="72" height="12" fill="#1c1d20" rx="6" opacity="0.3" filter="url(#b2)"/>
<rect x="592.6" y="255.2" width="12.8" height="3.6" fill="#08080a" rx="1.71" opacity="0.85" filter="url(#b1)"/>
<rect x="593.4" y="252.3" width="11.2" height="1.8" fill="#08080a" rx="0.85" opacity="0.3" filter="url(#b1)"/>
<rect x="609.2" y="254.7" width="13.6" height="4.6" fill="#08080a" rx="2.18" opacity="1" filter="url(#b1)"/>
<rect x="610.4" y="256" width="11.2" height="2.4" fill="#08080a" rx="1.14" opacity="0.6" filter="url(#b07)"/>
<rect x="628" y="257" width="12" height="2.8" fill="#08080a" rx="1.33" opacity="0.2" filter="url(#b1)"/>
<rect x="645" y="258" width="12" height="2.8" fill="#08080a" rx="1.33" opacity="0.3" filter="url(#b1)"/>
</g>
<rect x="590.1" y="250.2" width="70.3" height="12.5" fill="none" stroke="#4c5054" stroke-width="0.6"/>
<text x="587" y="258.85" font-size="7.3" fill="#1a1a1a" stroke="#1a1a1a" stroke-width="0.15" text-anchor="end">β-catenin</text>
<text x="660.9" y="259.6" font-size="5.4" fill="#1a1a1a" stroke="#1a1a1a" stroke-width="0.11">-100kDa</text>
<clipPath id="bc17"><rect x="590.1" y="264.3" width="70.3" height="12.6"/></clipPath>
<rect x="590.1" y="264.3" width="70.3" height="12.6" fill="#b2b6ba"/>
<g clip-path="url(#bc17)">
<rect x="589" y="265" width="72" height="12" fill="#1c1d20" rx="6" opacity="0.32" filter="url(#b2)"/>
<rect x="593" y="268.6" width="13" height="4" fill="#08080a" rx="1.9" opacity="0.25" filter="url(#b1)"/>
<rect x="609.6" y="266.4" width="11.2" height="6.4" fill="#08080a" rx="2.4" opacity="0.8" filter="url(#b1)"/>
<rect x="628" y="269.5" width="12" height="3" fill="#08080a" rx="1.42" opacity="0.1" filter="url(#b1)"/>
<rect x="645" y="269.5" width="12" height="3" fill="#08080a" rx="1.42" opacity="0.12" filter="url(#b1)"/>
</g>
<rect x="590.1" y="264.3" width="70.3" height="12.6" fill="none" stroke="#4c5054" stroke-width="0.6"/>
<text x="587" y="273" font-size="7.3" fill="#1a1a1a" stroke="#1a1a1a" stroke-width="0.15" text-anchor="end">Cyclin D1</text>
<text x="660.9" y="275.8" font-size="5.4" fill="#1a1a1a" stroke="#1a1a1a" stroke-width="0.11">-35kDa</text>
<clipPath id="bc18"><rect x="590.1" y="278.7" width="70.3" height="12.5"/></clipPath>
<rect x="590.1" y="278.7" width="70.3" height="12.5" fill="#c4c8cc"/>
<g clip-path="url(#bc18)">
<rect x="591.8" y="283.6" width="14.4" height="3.6" fill="#08080a" rx="1.71" opacity="0.9" filter="url(#b1)"/>
<rect x="592.8" y="284.5" width="12.4" height="1.8" fill="#08080a" rx="0.85" opacity="0.9" filter="url(#b07)"/>
<rect x="608.3" y="283.6" width="14.4" height="3.6" fill="#08080a" rx="1.71" opacity="0.9" filter="url(#b1)"/>
<rect x="609.3" y="284.5" width="12.4" height="1.8" fill="#08080a" rx="0.85" opacity="0.9" filter="url(#b07)"/>
<rect x="627.5" y="283.7" width="13.6" height="3.4" fill="#08080a" rx="1.61" opacity="0.9" filter="url(#b1)"/>
<rect x="628.5" y="284.6" width="11.6" height="1.6" fill="#08080a" rx="0.76" opacity="0.9" filter="url(#b07)"/>
<rect x="643.8" y="283.6" width="14.4" height="3.8" fill="#08080a" rx="1.8" opacity="0.9" filter="url(#b1)"/>
<rect x="644.8" y="284.5" width="12.4" height="2" fill="#08080a" rx="0.95" opacity="0.9" filter="url(#b07)"/>
</g>
<rect x="590.1" y="278.7" width="70.3" height="12.5" fill="none" stroke="#4c5054" stroke-width="0.6"/>
<text x="587" y="287.35" font-size="7.3" fill="#1a1a1a" stroke="#1a1a1a" stroke-width="0.15" text-anchor="end">GAPDH</text>
<text x="660.9" y="290.1" font-size="5.4" fill="#1a1a1a" stroke="#1a1a1a" stroke-width="0.11">-35kDa</text>
</g>
<g id="pg">
<text x="1.2" y="329.4" font-size="10" fill="#000" stroke="#000" stroke-width="0.21" font-weight="bold">g</text>
<text x="89.4" y="336.2" font-size="9" fill="#1a1a1a" stroke="#1a1a1a" stroke-width="0.18" text-anchor="middle">X01</text>
<line x1="31.7" y1="342.5" x2="31.7" y2="436.2" stroke="#2a2a2a" stroke-width="0.9"/>
<line x1="31.4" y1="435.9" x2="148.9" y2="435.9" stroke="#2a2a2a" stroke-width="0.9"/>
<line x1="28.7" y1="342.8" x2="31.7" y2="342.8" stroke="#2a2a2a" stroke-width="0.9"/>
<text x="27.4" y="345.4" font-size="7.3" fill="#1a1a1a" stroke="#1a1a1a" stroke-width="0.15" text-anchor="end">0</text>
<line x1="28.7" y1="366.07" x2="31.7" y2="366.07" stroke="#2a2a2a" stroke-width="0.9"/>
<text x="27.4" y="368.68" font-size="7.3" fill="#1a1a1a" stroke="#1a1a1a" stroke-width="0.15" text-anchor="end">-1</text>
<line x1="28.7" y1="389.35" x2="31.7" y2="389.35" stroke="#2a2a2a" stroke-width="0.9"/>
<text x="27.4" y="391.95" font-size="7.3" fill="#1a1a1a" stroke="#1a1a1a" stroke-width="0.15" text-anchor="end">-2</text>
<line x1="28.7" y1="412.62" x2="31.7" y2="412.62" stroke="#2a2a2a" stroke-width="0.9"/>
<text x="27.4" y="415.23" font-size="7.3" fill="#1a1a1a" stroke="#1a1a1a" stroke-width="0.15" text-anchor="end">-3</text>
<line x1="28.7" y1="435.9" x2="31.7" y2="435.9" stroke="#2a2a2a" stroke-width="0.9"/>
<text x="27.4" y="438.5" font-size="7.3" fill="#1a1a1a" stroke="#1a1a1a" stroke-width="0.15" text-anchor="end">-4</text>
<line x1="31.7" y1="435.9" x2="31.7" y2="438.5" stroke="#2a2a2a" stroke-width="0.9"/>
<text x="31.7" y="447.3" font-size="7.3" fill="#1a1a1a" stroke="#1a1a1a" stroke-width="0.15" text-anchor="middle">0</text>
<line x1="60.92" y1="435.9" x2="60.92" y2="438.5" stroke="#2a2a2a" stroke-width="0.9"/>
<text x="60.92" y="447.3" font-size="7.3" fill="#1a1a1a" stroke="#1a1a1a" stroke-width="0.15" text-anchor="middle">25</text>
<line x1="90.15" y1="435.9" x2="90.15" y2="438.5" stroke="#2a2a2a" stroke-width="0.9"/>
<text x="90.15" y="447.3" font-size="7.3" fill="#1a1a1a" stroke="#1a1a1a" stroke-width="0.15" text-anchor="middle">50</text>
<line x1="119.38" y1="435.9" x2="119.38" y2="438.5" stroke="#2a2a2a" stroke-width="0.9"/>
<text x="119.38" y="447.3" font-size="7.3" fill="#1a1a1a" stroke="#1a1a1a" stroke-width="0.15" text-anchor="middle">75</text>
<line x1="148.6" y1="435.9" x2="148.6" y2="438.5" stroke="#2a2a2a" stroke-width="0.9"/>
<text x="148.6" y="447.3" font-size="7.3" fill="#1a1a1a" stroke="#1a1a1a" stroke-width="0.15" text-anchor="middle">100</text>
<clipPath id="clg"><rect x="28.7" y="337.8" width="124.9" height="98.1"/></clipPath>
<g clip-path="url(#clg)">
<line x1="31.7" y1="342.8" x2="93.42" y2="435.9" stroke="#3fd07a" stroke-width="0.8"/>
<line x1="31.7" y1="342.8" x2="52.63" y2="435.9" stroke="#f0241c" stroke-width="0.8"/>
<line x1="31.7" y1="343.27" x2="148.6" y2="360.72" stroke="#111" stroke-width="0.8"/>
<line x1="31.7" y1="342.8" x2="148.6" y2="359.56" stroke="#3c78d8" stroke-width="0.8"/>
</g>
<line x1="40.3" y1="383.88" x2="69.37" y2="351.24" stroke="#3c78d8" stroke-width="0.6"/>
<polygon points="71.03,349.37 65.99,351.57 69.43,354.63" fill="#3c78d8"/>
<text transform="translate(53.33 366.4) rotate(-48.31)" font-size="5.0" text-anchor="middle" fill="#222"><tspan font-style="italic">P</tspan> &lt; 0.0001</text>
<line x1="44.84" y1="399.75" x2="88.2" y2="354.2" stroke="#111" stroke-width="0.6"/>
<polygon points="89.92,352.39 84.81,354.43 88.14,357.6" fill="#111"/>
<text transform="translate(68.71 371.92) rotate(-46.4)" font-size="5.0" text-anchor="middle" fill="#222"><tspan font-style="italic">P</tspan> &lt; 0.0001</text>
<line x1="51.64" y1="423.68" x2="72.24" y2="409.71" stroke="#3fd07a" stroke-width="0.6"/>
<polygon points="74.31,408.31 68.88,409.21 71.46,413.02" fill="#3fd07a"/>
<text transform="translate(61.23 414.88) rotate(-34.13)" font-size="5.0" text-anchor="middle" fill="#222"><tspan font-style="italic">P</tspan> = 0.0002</text>
<circle cx="31.7" cy="342.8" r="1.9" fill="#3fd07a"/>
<rect x="29.9" y="341" width="3.6" height="3.6" fill="#f0241c"/>
<circle cx="37.55" cy="359.09" r="1.9" fill="#3fd07a"/>
<circle cx="60.92" cy="375.38" r="1.9" fill="#3fd07a"/>
<rect x="35.75" y="382.89" width="3.6" height="3.6" fill="#f0241c"/>
<rect x="59.12" y="415.48" width="3.6" height="3.6" fill="#f0241c"/>
<polygon points="37.55,345 39.75,341.26 35.34,341.26" fill="#111"/>
<polygon points="60.92,348.49 63.12,344.75 58.72,344.75" fill="#111"/>
<polygon points="90.15,351.98 92.35,348.24 87.95,348.24" fill="#111"/>
<polygon points="148.6,362.92 150.8,359.18 146.4,359.18" fill="#111"/>
<polygon points="37.55,340.6 39.75,344.34 35.34,344.34" fill="#3c78d8"/>
<polygon points="60.92,343.63 63.12,347.37 58.72,347.37" fill="#3c78d8"/>
<polygon points="90.15,345.72 92.35,349.46 87.95,349.46" fill="#3c78d8"/>
<polygon points="148.6,358.29 150.8,362.03 146.4,362.03" fill="#3c78d8"/>
<circle cx="31.7" cy="342.8" r="1.9" fill="#3fd07a"/>
<text x="89.65" y="456.6" font-size="7.3" fill="#1a1a1a" stroke="#1a1a1a" stroke-width="0.15" text-anchor="middle">Number of initial cells/well</text>
<text font-size="7.3" fill="#1a1a1a" stroke="#1a1a1a" stroke-width="0.15" text-anchor="middle" transform="translate(14.5 388.75) rotate(-90)">Log fraction without spheres</text>
<line x1="79" y1="402.1" x2="91.6" y2="402.1" stroke="#3fd07a" stroke-width="0.6"/>
<circle cx="85.3" cy="402.1" r="1.9" fill="#3fd07a"/>
<text x="98.7" y="404.6" font-size="7.05" fill="#1a1a1a" stroke="#1a1a1a" stroke-width="0.14">Vector</text>
<line x1="79" y1="411.2" x2="91.6" y2="411.2" stroke="#f0241c" stroke-width="0.6"/>
<rect x="83.5" y="409.4" width="3.6" height="3.6" fill="#f0241c"/>
<text x="98.7" y="413.7" font-size="7.05" fill="#1a1a1a" stroke="#1a1a1a" stroke-width="0.14">ICAM1</text>
<line x1="79" y1="420.3" x2="91.6" y2="420.3" stroke="#3c78d8" stroke-width="0.6"/>
<polygon points="85.3,418.1 87.5,421.84 83.1,421.84" fill="#3c78d8"/>
<text x="98.7" y="422.8" font-size="7.05" fill="#1a1a1a" stroke="#1a1a1a" stroke-width="0.14">Vector+ICG001</text>
<line x1="79" y1="429.3" x2="91.6" y2="429.3" stroke="#111" stroke-width="0.6"/>
<polygon points="85.3,431.5 87.5,427.76 83.1,427.76" fill="#111"/>
<text x="98.7" y="431.8" font-size="7.05" fill="#1a1a1a" stroke="#1a1a1a" stroke-width="0.14">ICAM1+ICG001</text>
<text x="182.4" y="329.4" font-size="10" fill="#000" stroke="#000" stroke-width="0.21" font-weight="bold">h</text>
<text x="271" y="336.2" font-size="9" fill="#1a1a1a" stroke="#1a1a1a" stroke-width="0.18" text-anchor="middle">131</text>
<line x1="213.3" y1="342.5" x2="213.3" y2="436.2" stroke="#2a2a2a" stroke-width="0.9"/>
<line x1="213" y1="435.9" x2="330" y2="435.9" stroke="#2a2a2a" stroke-width="0.9"/>
<line x1="210.3" y1="342.8" x2="213.3" y2="342.8" stroke="#2a2a2a" stroke-width="0.9"/>
<text x="209" y="345.4" font-size="7.3" fill="#1a1a1a" stroke="#1a1a1a" stroke-width="0.15" text-anchor="end">0</text>
<line x1="210.3" y1="366.07" x2="213.3" y2="366.07" stroke="#2a2a2a" stroke-width="0.9"/>
<text x="209" y="368.68" font-size="7.3" fill="#1a1a1a" stroke="#1a1a1a" stroke-width="0.15" text-anchor="end">-1</text>
<line x1="210.3" y1="389.35" x2="213.3" y2="389.35" stroke="#2a2a2a" stroke-width="0.9"/>
<text x="209" y="391.95" font-size="7.3" fill="#1a1a1a" stroke="#1a1a1a" stroke-width="0.15" text-anchor="end">-2</text>
<line x1="210.3" y1="412.62" x2="213.3" y2="412.62" stroke="#2a2a2a" stroke-width="0.9"/>
<text x="209" y="415.23" font-size="7.3" fill="#1a1a1a" stroke="#1a1a1a" stroke-width="0.15" text-anchor="end">-3</text>
<line x1="210.3" y1="435.9" x2="213.3" y2="435.9" stroke="#2a2a2a" stroke-width="0.9"/>
<text x="209" y="438.5" font-size="7.3" fill="#1a1a1a" stroke="#1a1a1a" stroke-width="0.15" text-anchor="end">-4</text>
<line x1="213.3" y1="435.9" x2="213.3" y2="438.5" stroke="#2a2a2a" stroke-width="0.9"/>
<text x="213.3" y="447.3" font-size="7.3" fill="#1a1a1a" stroke="#1a1a1a" stroke-width="0.15" text-anchor="middle">0</text>
<line x1="242.4" y1="435.9" x2="242.4" y2="438.5" stroke="#2a2a2a" stroke-width="0.9"/>
<text x="242.4" y="447.3" font-size="7.3" fill="#1a1a1a" stroke="#1a1a1a" stroke-width="0.15" text-anchor="middle">25</text>
<line x1="271.5" y1="435.9" x2="271.5" y2="438.5" stroke="#2a2a2a" stroke-width="0.9"/>
<text x="271.5" y="447.3" font-size="7.3" fill="#1a1a1a" stroke="#1a1a1a" stroke-width="0.15" text-anchor="middle">50</text>
<line x1="300.6" y1="435.9" x2="300.6" y2="438.5" stroke="#2a2a2a" stroke-width="0.9"/>
<text x="300.6" y="447.3" font-size="7.3" fill="#1a1a1a" stroke="#1a1a1a" stroke-width="0.15" text-anchor="middle">75</text>
<line x1="329.7" y1="435.9" x2="329.7" y2="438.5" stroke="#2a2a2a" stroke-width="0.9"/>
<text x="329.7" y="447.3" font-size="7.3" fill="#1a1a1a" stroke="#1a1a1a" stroke-width="0.15" text-anchor="middle">100</text>
<clipPath id="clh"><rect x="210.3" y="337.8" width="124.4" height="98.1"/></clipPath>
<g clip-path="url(#clh)">
<line x1="213.3" y1="342.8" x2="314.1" y2="435.9" stroke="#3fd07a" stroke-width="0.8"/>
<line x1="213.3" y1="342.8" x2="242.63" y2="435.9" stroke="#f0241c" stroke-width="0.8"/>
<line x1="213.3" y1="343.27" x2="329.7" y2="371.2" stroke="#111" stroke-width="0.8"/>
<line x1="213.3" y1="342.8" x2="329.7" y2="367.24" stroke="#3c78d8" stroke-width="0.8"/>
</g>
<line x1="229.18" y1="390.68" x2="263.87" y2="358.62" stroke="#111" stroke-width="0.6"/>
<polygon points="265.7,356.93 260.47,358.63 263.59,362.01" fill="#111"/>
<text transform="translate(243.96 374.43) rotate(-42.74)" font-size="5.0" text-anchor="middle" fill="#222"><tspan font-style="italic">P</tspan> &lt; 0.0001</text>
<line x1="233.71" y1="405.29" x2="280.28" y2="360.42" stroke="#3c78d8" stroke-width="0.6"/>
<polygon points="282.08,358.69 276.88,360.5 280.07,363.82" fill="#3c78d8"/>
<text transform="translate(250.77 386.21) rotate(-43.94)" font-size="5.0" text-anchor="middle" fill="#222"><tspan font-style="italic">P</tspan> &lt; 0.0001</text>
<line x1="238.75" y1="421.66" x2="266.61" y2="396.88" stroke="#3fd07a" stroke-width="0.6"/>
<polygon points="268.47,395.21 263.21,396.82 266.27,400.26" fill="#3fd07a"/>
<text transform="translate(250.86 408.34) rotate(-41.66)" font-size="5.0" text-anchor="middle" fill="#222"><tspan font-style="italic">P</tspan> &lt; 0.0001</text>
<circle cx="213.3" cy="342.8" r="1.9" fill="#3fd07a"/>
<circle cx="219.12" cy="379.57" r="1.9" fill="#3fd07a"/>
<circle cx="242.4" cy="400.99" r="1.9" fill="#3fd07a"/>
<rect x="211.5" y="341" width="3.6" height="3.6" fill="#f0241c"/>
<rect x="217.32" y="346.82" width="3.6" height="3.6" fill="#f0241c"/>
<rect x="240.6" y="359.62" width="3.6" height="3.6" fill="#f0241c"/>
<polygon points="219.12,345 221.32,341.26 216.92,341.26" fill="#111"/>
<polygon points="242.4,350.82 244.6,347.08 240.2,347.08" fill="#111"/>
<polygon points="271.5,359.43 273.7,355.69 269.3,355.69" fill="#111"/>
<polygon points="329.7,373.4 331.9,369.66 327.5,369.66" fill="#111"/>
<polygon points="219.12,341.07 221.32,344.81 216.92,344.81" fill="#3c78d8"/>
<polygon points="242.4,347.58 244.6,351.32 240.2,351.32" fill="#3c78d8"/>
<polygon points="271.5,356.89 273.7,360.63 269.3,360.63" fill="#3c78d8"/>
<polygon points="329.7,364.34 331.9,368.08 327.5,368.08" fill="#3c78d8"/>
<text x="271" y="456.6" font-size="7.3" fill="#1a1a1a" stroke="#1a1a1a" stroke-width="0.15" text-anchor="middle">Number of initial cells/well</text>
<text font-size="7.3" fill="#1a1a1a" stroke="#1a1a1a" stroke-width="0.15" text-anchor="middle" transform="translate(196.5 388.75) rotate(-90)">Log fraction without spheres</text>
<line x1="260.9" y1="404" x2="273.5" y2="404" stroke="#f0241c" stroke-width="0.6"/>
<circle cx="267.2" cy="404" r="1.9" fill="#3fd07a"/>
<text x="280.3" y="406.5" font-size="7.05" fill="#1a1a1a" stroke="#1a1a1a" stroke-width="0.14">Vector</text>
<line x1="260.9" y1="413.4" x2="273.5" y2="413.4" stroke="#3fd07a" stroke-width="0.6"/>
<rect x="265.4" y="411.6" width="3.6" height="3.6" fill="#f0241c"/>
<text x="280.3" y="415.9" font-size="7.05" fill="#1a1a1a" stroke="#1a1a1a" stroke-width="0.14">ICAM1</text>
<line x1="260.9" y1="422.7" x2="273.5" y2="422.7" stroke="#3c78d8" stroke-width="0.6"/>
<polygon points="267.2,420.5 269.4,424.24 265,424.24" fill="#3c78d8"/>
<text x="280.3" y="425.2" font-size="7.05" fill="#1a1a1a" stroke="#1a1a1a" stroke-width="0.14">Vector+ICG001</text>
<line x1="260.9" y1="431.7" x2="273.5" y2="431.7" stroke="#555" stroke-width="0.6"/>
<polygon points="267.2,433.9 269.4,430.16 265,430.16" fill="#111"/>
<text x="280.3" y="434.2" font-size="7.05" fill="#1a1a1a" stroke="#1a1a1a" stroke-width="0.14">ICAM1+ICG001</text>
</g>
<g id="pi">
<text x="363.4" y="329.4" font-size="10" fill="#000" stroke="#000" stroke-width="0.21" font-weight="bold">i</text>
<text x="443" y="336.2" font-size="9" fill="#1a1a1a" stroke="#1a1a1a" stroke-width="0.18" text-anchor="middle">X01</text>
<line x1="385.1" y1="342.3" x2="385.1" y2="436.2" stroke="#2a2a2a" stroke-width="0.9"/>
<line x1="384.8" y1="435.9" x2="501.7" y2="435.9" stroke="#2a2a2a" stroke-width="0.9"/>
<line x1="382.1" y1="435.9" x2="385.1" y2="435.9" stroke="#2a2a2a" stroke-width="0.9"/>
<text x="380.8" y="438.5" font-size="7.3" fill="#1a1a1a" stroke="#1a1a1a" stroke-width="0.15" text-anchor="end">0</text>
<line x1="382.1" y1="412.57" x2="385.1" y2="412.57" stroke="#2a2a2a" stroke-width="0.9"/>
<text x="380.8" y="415.18" font-size="7.3" fill="#1a1a1a" stroke="#1a1a1a" stroke-width="0.15" text-anchor="end">2</text>
<line x1="382.1" y1="389.25" x2="385.1" y2="389.25" stroke="#2a2a2a" stroke-width="0.9"/>
<text x="380.8" y="391.85" font-size="7.3" fill="#1a1a1a" stroke="#1a1a1a" stroke-width="0.15" text-anchor="end">4</text>
<line x1="382.1" y1="365.93" x2="385.1" y2="365.93" stroke="#2a2a2a" stroke-width="0.9"/>
<text x="380.8" y="368.53" font-size="7.3" fill="#1a1a1a" stroke="#1a1a1a" stroke-width="0.15" text-anchor="end">6</text>
<line x1="382.1" y1="342.6" x2="385.1" y2="342.6" stroke="#2a2a2a" stroke-width="0.9"/>
<text x="380.8" y="345.2" font-size="7.3" fill="#1a1a1a" stroke="#1a1a1a" stroke-width="0.15" text-anchor="end">8</text>
<line x1="385.1" y1="435.9" x2="385.1" y2="438.5" stroke="#2a2a2a" stroke-width="0.9"/>
<text x="385.1" y="447.3" font-size="7.3" fill="#1a1a1a" stroke="#1a1a1a" stroke-width="0.15" text-anchor="middle">0</text>
<line x1="423.87" y1="435.9" x2="423.87" y2="438.5" stroke="#2a2a2a" stroke-width="0.9"/>
<text x="423.87" y="447.3" font-size="7.3" fill="#1a1a1a" stroke="#1a1a1a" stroke-width="0.15" text-anchor="middle">2</text>
<line x1="462.63" y1="435.9" x2="462.63" y2="438.5" stroke="#2a2a2a" stroke-width="0.9"/>
<text x="462.63" y="447.3" font-size="7.3" fill="#1a1a1a" stroke="#1a1a1a" stroke-width="0.15" text-anchor="middle">4</text>
<line x1="501.4" y1="435.9" x2="501.4" y2="438.5" stroke="#2a2a2a" stroke-width="0.9"/>
<text x="501.4" y="447.3" font-size="7.3" fill="#1a1a1a" stroke="#1a1a1a" stroke-width="0.15" text-anchor="middle">6</text>
<polyline points="385.1,424.24 423.87,420.74 462.63,414.67 501.4,412.57" fill="none" stroke="#111" stroke-width="0.8" stroke-linejoin="round"/>
<line x1="462.63" y1="413.51" x2="462.63" y2="415.84" stroke="#111" stroke-width="0.6"/>
<line x1="460.83" y1="413.51" x2="464.43" y2="413.51" stroke="#111" stroke-width="0.6"/>
<line x1="460.83" y1="415.84" x2="464.43" y2="415.84" stroke="#111" stroke-width="0.6"/>
<line x1="501.4" y1="410.24" x2="501.4" y2="414.91" stroke="#111" stroke-width="0.6"/>
<line x1="499.6" y1="410.24" x2="503.2" y2="410.24" stroke="#111" stroke-width="0.6"/>
<line x1="499.6" y1="414.91" x2="503.2" y2="414.91" stroke="#111" stroke-width="0.6"/>
<polygon points="385.1,426.04 386.9,422.98 383.3,422.98" fill="#111"/>
<polygon points="423.87,422.54 425.67,419.48 422.07,419.48" fill="#111"/>
<polygon points="462.63,416.47 464.43,413.41 460.83,413.41" fill="#111"/>
<polygon points="501.4,414.38 503.2,411.31 499.6,411.31" fill="#111"/>
<polyline points="385.1,424.24 423.87,420.97 462.63,414.32 501.4,413.16" fill="none" stroke="#3c78d8" stroke-width="0.8" stroke-linejoin="round"/>
<line x1="423.87" y1="420.04" x2="423.87" y2="421.9" stroke="#3c78d8" stroke-width="0.6"/>
<line x1="422.07" y1="420.04" x2="425.67" y2="420.04" stroke="#3c78d8" stroke-width="0.6"/>
<line x1="422.07" y1="421.9" x2="425.67" y2="421.9" stroke="#3c78d8" stroke-width="0.6"/>
<line x1="462.63" y1="413.16" x2="462.63" y2="415.49" stroke="#3c78d8" stroke-width="0.6"/>
<line x1="460.83" y1="413.16" x2="464.43" y2="413.16" stroke="#3c78d8" stroke-width="0.6"/>
<line x1="460.83" y1="415.49" x2="464.43" y2="415.49" stroke="#3c78d8" stroke-width="0.6"/>
<line x1="501.4" y1="409.66" x2="501.4" y2="416.66" stroke="#3c78d8" stroke-width="0.6"/>
<line x1="499.6" y1="409.66" x2="503.2" y2="409.66" stroke="#3c78d8" stroke-width="0.6"/>
<line x1="499.6" y1="416.66" x2="503.2" y2="416.66" stroke="#3c78d8" stroke-width="0.6"/>
<polygon points="385.1,422.44 386.9,425.5 383.3,425.5" fill="#3c78d8"/>
<polygon points="423.87,419.17 425.67,422.23 422.07,422.23" fill="#3c78d8"/>
<polygon points="462.63,412.52 464.43,415.58 460.83,415.58" fill="#3c78d8"/>
<polygon points="501.4,411.36 503.2,414.42 499.6,414.42" fill="#3c78d8"/>
<polyline points="385.1,424.24 423.87,413.74 462.63,392.52 501.4,359.51" fill="none" stroke="#f0241c" stroke-width="0.8" stroke-linejoin="round"/>
<line x1="423.87" y1="412.57" x2="423.87" y2="414.91" stroke="#f0241c" stroke-width="0.6"/>
<line x1="422.07" y1="412.57" x2="425.67" y2="412.57" stroke="#f0241c" stroke-width="0.6"/>
<line x1="422.07" y1="414.91" x2="425.67" y2="414.91" stroke="#f0241c" stroke-width="0.6"/>
<line x1="462.63" y1="391.12" x2="462.63" y2="393.91" stroke="#f0241c" stroke-width="0.6"/>
<line x1="460.83" y1="391.12" x2="464.43" y2="391.12" stroke="#f0241c" stroke-width="0.6"/>
<line x1="460.83" y1="393.91" x2="464.43" y2="393.91" stroke="#f0241c" stroke-width="0.6"/>
<line x1="501.4" y1="356.01" x2="501.4" y2="363.01" stroke="#f0241c" stroke-width="0.6"/>
<line x1="499.6" y1="356.01" x2="503.2" y2="356.01" stroke="#f0241c" stroke-width="0.6"/>
<line x1="499.6" y1="363.01" x2="503.2" y2="363.01" stroke="#f0241c" stroke-width="0.6"/>
<rect x="383.3" y="422.44" width="3.6" height="3.6" fill="#f0241c"/>
<rect x="422.07" y="411.94" width="3.6" height="3.6" fill="#f0241c"/>
<rect x="460.83" y="390.72" width="3.6" height="3.6" fill="#f0241c"/>
<rect x="499.6" y="357.71" width="3.6" height="3.6" fill="#f0241c"/>
<polyline points="385.1,424.24 423.87,417.82 462.63,407.33 501.4,388.43" fill="none" stroke="#3fd07a" stroke-width="0.8" stroke-linejoin="round"/>
<line x1="423.87" y1="416.66" x2="423.87" y2="418.99" stroke="#3fd07a" stroke-width="0.6"/>
<line x1="422.07" y1="416.66" x2="425.67" y2="416.66" stroke="#3fd07a" stroke-width="0.6"/>
<line x1="422.07" y1="418.99" x2="425.67" y2="418.99" stroke="#3fd07a" stroke-width="0.6"/>
<line x1="462.63" y1="406.16" x2="462.63" y2="408.49" stroke="#3fd07a" stroke-width="0.6"/>
<line x1="460.83" y1="406.16" x2="464.43" y2="406.16" stroke="#3fd07a" stroke-width="0.6"/>
<line x1="460.83" y1="408.49" x2="464.43" y2="408.49" stroke="#3fd07a" stroke-width="0.6"/>
<line x1="501.4" y1="384.93" x2="501.4" y2="391.93" stroke="#3fd07a" stroke-width="0.6"/>
<line x1="499.6" y1="384.93" x2="503.2" y2="384.93" stroke="#3fd07a" stroke-width="0.6"/>
<line x1="499.6" y1="391.93" x2="503.2" y2="391.93" stroke="#3fd07a" stroke-width="0.6"/>
<circle cx="385.1" cy="424.24" r="1.9" fill="#3fd07a"/>
<circle cx="423.87" cy="417.82" r="1.9" fill="#3fd07a"/>
<circle cx="462.63" cy="407.33" r="1.9" fill="#3fd07a"/>
<circle cx="501.4" cy="388.43" r="1.9" fill="#3fd07a"/>
<text x="435.9" y="456.6" font-size="7.3" fill="#1a1a1a" stroke="#1a1a1a" stroke-width="0.15" text-anchor="middle">Days in culture</text>
<text font-size="7.3" fill="#1a1a1a" stroke="#1a1a1a" stroke-width="0.15" text-anchor="middle" transform="translate(371 386.75) rotate(-90)">Relative cell growth</text>
<line x1="388" y1="348.61" x2="400.7" y2="348.61" stroke="#3fd07a" stroke-width="0.6"/>
<circle cx="394.35" cy="348.61" r="1.9" fill="#3fd07a"/>
<text x="407.5" y="351.11" font-size="7.05" fill="#1a1a1a" stroke="#1a1a1a" stroke-width="0.14">Vector</text>
<line x1="388" y1="360.45" x2="400.7" y2="360.45" stroke="#f0241c" stroke-width="0.6"/>
<rect x="392.55" y="358.65" width="3.6" height="3.6" fill="#f0241c"/>
<text x="407.5" y="362.95" font-size="7.05" fill="#1a1a1a" stroke="#1a1a1a" stroke-width="0.14">ICAM1</text>
<line x1="388" y1="371.79" x2="400.7" y2="371.79" stroke="#3c78d8" stroke-width="0.6"/>
<polygon points="394.35,369.59 396.55,373.33 392.15,373.33" fill="#3c78d8"/>
<text x="407.5" y="374.29" font-size="7.05" fill="#1a1a1a" stroke="#1a1a1a" stroke-width="0.14">Vector+ICG001</text>
<line x1="388" y1="382.62" x2="400.7" y2="382.62" stroke="#111" stroke-width="0.6"/>
<polygon points="394.35,384.82 396.55,381.08 392.15,381.08" fill="#111"/>
<text x="407.5" y="385.12" font-size="7.05" fill="#1a1a1a" stroke="#1a1a1a" stroke-width="0.14">ICAM1+ICG001</text>
<polyline points="429.14,347.86 433.67,347.86 433.67,360.45 429.14,360.45" fill="none" stroke="#3a3a3a" stroke-width="0.55" stroke-linejoin="round"/>
<text transform="translate(437.2 354.41) rotate(90)" font-size="4.9" text-anchor="middle" fill="#222"><tspan font-style="italic">P</tspan> = 0.0005</text>
<polyline points="457.35,348.36 461.88,348.36 461.88,371.28 457.35,371.28" fill="none" stroke="#3a3a3a" stroke-width="0.55" stroke-linejoin="round"/>
<text transform="translate(463.14 359.95) rotate(90)" font-size="4.9" text-anchor="middle" fill="#222"><tspan font-style="italic">P</tspan> = 0.0008</text>
<polyline points="469.19,360.45 472.84,360.45 472.84,382.62 469.19,382.62" fill="none" stroke="#3a3a3a" stroke-width="0.55" stroke-linejoin="round"/>
<text transform="translate(474.98 372.04) rotate(90)" font-size="4.9" text-anchor="middle" fill="#222"><tspan font-style="italic">P</tspan> &lt; 0.0001</text>
<text x="535.6" y="329.4" font-size="10" fill="#000" stroke="#000" stroke-width="0.21" font-weight="bold">j</text>
<text x="616.3" y="336.2" font-size="9" fill="#1a1a1a" stroke="#1a1a1a" stroke-width="0.18" text-anchor="middle">131</text>
<line x1="558.3" y1="342.3" x2="558.3" y2="436.2" stroke="#2a2a2a" stroke-width="0.9"/>
<line x1="558" y1="435.9" x2="675" y2="435.9" stroke="#2a2a2a" stroke-width="0.9"/>
<line x1="555.3" y1="435.9" x2="558.3" y2="435.9" stroke="#2a2a2a" stroke-width="0.9"/>
<text x="554" y="438.5" font-size="7.3" fill="#1a1a1a" stroke="#1a1a1a" stroke-width="0.15" text-anchor="end">0</text>
<line x1="555.3" y1="412.57" x2="558.3" y2="412.57" stroke="#2a2a2a" stroke-width="0.9"/>
<text x="554" y="415.18" font-size="7.3" fill="#1a1a1a" stroke="#1a1a1a" stroke-width="0.15" text-anchor="end">2</text>
<line x1="555.3" y1="389.25" x2="558.3" y2="389.25" stroke="#2a2a2a" stroke-width="0.9"/>
<text x="554" y="391.85" font-size="7.3" fill="#1a1a1a" stroke="#1a1a1a" stroke-width="0.15" text-anchor="end">4</text>
<line x1="555.3" y1="365.93" x2="558.3" y2="365.93" stroke="#2a2a2a" stroke-width="0.9"/>
<text x="554" y="368.53" font-size="7.3" fill="#1a1a1a" stroke="#1a1a1a" stroke-width="0.15" text-anchor="end">6</text>
<line x1="555.3" y1="342.6" x2="558.3" y2="342.6" stroke="#2a2a2a" stroke-width="0.9"/>
<text x="554" y="345.2" font-size="7.3" fill="#1a1a1a" stroke="#1a1a1a" stroke-width="0.15" text-anchor="end">8</text>
<line x1="558.3" y1="435.9" x2="558.3" y2="438.5" stroke="#2a2a2a" stroke-width="0.9"/>
<text x="558.3" y="447.3" font-size="7.3" fill="#1a1a1a" stroke="#1a1a1a" stroke-width="0.15" text-anchor="middle">0</text>
<line x1="597.1" y1="435.9" x2="597.1" y2="438.5" stroke="#2a2a2a" stroke-width="0.9"/>
<text x="597.1" y="447.3" font-size="7.3" fill="#1a1a1a" stroke="#1a1a1a" stroke-width="0.15" text-anchor="middle">2</text>
<line x1="635.9" y1="435.9" x2="635.9" y2="438.5" stroke="#2a2a2a" stroke-width="0.9"/>
<text x="635.9" y="447.3" font-size="7.3" fill="#1a1a1a" stroke="#1a1a1a" stroke-width="0.15" text-anchor="middle">4</text>
<line x1="674.7" y1="435.9" x2="674.7" y2="438.5" stroke="#2a2a2a" stroke-width="0.9"/>
<text x="674.7" y="447.3" font-size="7.3" fill="#1a1a1a" stroke="#1a1a1a" stroke-width="0.15" text-anchor="middle">6</text>
<polyline points="558.3,424.24 597.1,420.16 635.9,417.82 674.7,418.41" fill="none" stroke="#111" stroke-width="0.8" stroke-linejoin="round"/>
<line x1="635.9" y1="416.66" x2="635.9" y2="418.99" stroke="#111" stroke-width="0.6"/>
<line x1="634.1" y1="416.66" x2="637.7" y2="416.66" stroke="#111" stroke-width="0.6"/>
<line x1="634.1" y1="418.99" x2="637.7" y2="418.99" stroke="#111" stroke-width="0.6"/>
<line x1="674.7" y1="416.66" x2="674.7" y2="420.16" stroke="#111" stroke-width="0.6"/>
<line x1="672.9" y1="416.66" x2="676.5" y2="416.66" stroke="#111" stroke-width="0.6"/>
<line x1="672.9" y1="420.16" x2="676.5" y2="420.16" stroke="#111" stroke-width="0.6"/>
<polygon points="558.3,426.04 560.1,422.98 556.5,422.98" fill="#111"/>
<polygon points="597.1,421.96 598.9,418.9 595.3,418.9" fill="#111"/>
<polygon points="635.9,419.62 637.7,416.56 634.1,416.56" fill="#111"/>
<polygon points="674.7,420.21 676.5,417.15 672.9,417.15" fill="#111"/>
<polyline points="558.3,424.24 597.1,420.16 635.9,419.34 674.7,419.57" fill="none" stroke="#3c78d8" stroke-width="0.8" stroke-linejoin="round"/>
<line x1="597.1" y1="419.22" x2="597.1" y2="421.09" stroke="#3c78d8" stroke-width="0.6"/>
<line x1="595.3" y1="419.22" x2="598.9" y2="419.22" stroke="#3c78d8" stroke-width="0.6"/>
<line x1="595.3" y1="421.09" x2="598.9" y2="421.09" stroke="#3c78d8" stroke-width="0.6"/>
<line x1="635.9" y1="418.17" x2="635.9" y2="420.51" stroke="#3c78d8" stroke-width="0.6"/>
<line x1="634.1" y1="418.17" x2="637.7" y2="418.17" stroke="#3c78d8" stroke-width="0.6"/>
<line x1="634.1" y1="420.51" x2="637.7" y2="420.51" stroke="#3c78d8" stroke-width="0.6"/>
<line x1="674.7" y1="417.82" x2="674.7" y2="421.32" stroke="#3c78d8" stroke-width="0.6"/>
<line x1="672.9" y1="417.82" x2="676.5" y2="417.82" stroke="#3c78d8" stroke-width="0.6"/>
<line x1="672.9" y1="421.32" x2="676.5" y2="421.32" stroke="#3c78d8" stroke-width="0.6"/>
<polygon points="558.3,422.44 560.1,425.5 556.5,425.5" fill="#3c78d8"/>
<polygon points="597.1,418.36 598.9,421.42 595.3,421.42" fill="#3c78d8"/>
<polygon points="635.9,417.54 637.7,420.6 634.1,420.6" fill="#3c78d8"/>
<polygon points="674.7,417.77 676.5,420.83 672.9,420.83" fill="#3c78d8"/>
<polyline points="558.3,424.24 597.1,410.83 635.9,397.41 674.7,370.01" fill="none" stroke="#f0241c" stroke-width="0.8" stroke-linejoin="round"/>
<line x1="597.1" y1="409.66" x2="597.1" y2="411.99" stroke="#f0241c" stroke-width="0.6"/>
<line x1="595.3" y1="409.66" x2="598.9" y2="409.66" stroke="#f0241c" stroke-width="0.6"/>
<line x1="595.3" y1="411.99" x2="598.9" y2="411.99" stroke="#f0241c" stroke-width="0.6"/>
<line x1="635.9" y1="394.5" x2="635.9" y2="400.33" stroke="#f0241c" stroke-width="0.6"/>
<line x1="634.1" y1="394.5" x2="637.7" y2="394.5" stroke="#f0241c" stroke-width="0.6"/>
<line x1="634.1" y1="400.33" x2="637.7" y2="400.33" stroke="#f0241c" stroke-width="0.6"/>
<line x1="674.7" y1="364.76" x2="674.7" y2="375.26" stroke="#f0241c" stroke-width="0.6"/>
<line x1="672.9" y1="364.76" x2="676.5" y2="364.76" stroke="#f0241c" stroke-width="0.6"/>
<line x1="672.9" y1="375.26" x2="676.5" y2="375.26" stroke="#f0241c" stroke-width="0.6"/>
<rect x="556.5" y="422.44" width="3.6" height="3.6" fill="#f0241c"/>
<rect x="595.3" y="409.03" width="3.6" height="3.6" fill="#f0241c"/>
<rect x="634.1" y="395.61" width="3.6" height="3.6" fill="#f0241c"/>
<rect x="672.9" y="368.21" width="3.6" height="3.6" fill="#f0241c"/>
<polyline points="558.3,424.24 597.1,414.32 635.9,406.74 674.7,394.5" fill="none" stroke="#3fd07a" stroke-width="0.8" stroke-linejoin="round"/>
<line x1="597.1" y1="413.16" x2="597.1" y2="415.49" stroke="#3fd07a" stroke-width="0.6"/>
<line x1="595.3" y1="413.16" x2="598.9" y2="413.16" stroke="#3fd07a" stroke-width="0.6"/>
<line x1="595.3" y1="415.49" x2="598.9" y2="415.49" stroke="#3fd07a" stroke-width="0.6"/>
<line x1="635.9" y1="403.83" x2="635.9" y2="409.66" stroke="#3fd07a" stroke-width="0.6"/>
<line x1="634.1" y1="403.83" x2="637.7" y2="403.83" stroke="#3fd07a" stroke-width="0.6"/>
<line x1="634.1" y1="409.66" x2="637.7" y2="409.66" stroke="#3fd07a" stroke-width="0.6"/>
<line x1="674.7" y1="391" x2="674.7" y2="398" stroke="#3fd07a" stroke-width="0.6"/>
<line x1="672.9" y1="391" x2="676.5" y2="391" stroke="#3fd07a" stroke-width="0.6"/>
<line x1="672.9" y1="398" x2="676.5" y2="398" stroke="#3fd07a" stroke-width="0.6"/>
<circle cx="558.3" cy="424.24" r="1.9" fill="#3fd07a"/>
<circle cx="597.1" cy="414.32" r="1.9" fill="#3fd07a"/>
<circle cx="635.9" cy="406.74" r="1.9" fill="#3fd07a"/>
<circle cx="674.7" cy="394.5" r="1.9" fill="#3fd07a"/>
<text x="615.5" y="456.6" font-size="7.3" fill="#1a1a1a" stroke="#1a1a1a" stroke-width="0.15" text-anchor="middle">Days in culture</text>
<text font-size="7.3" fill="#1a1a1a" stroke="#1a1a1a" stroke-width="0.15" text-anchor="middle" transform="translate(545 386.75) rotate(-90)">Relative cell growth</text>
<line x1="560.9" y1="348.61" x2="574" y2="348.61" stroke="#3fd07a" stroke-width="0.6"/>
<circle cx="567.45" cy="348.61" r="1.9" fill="#3fd07a"/>
<text x="580.5" y="351.11" font-size="7.2" fill="#1a1a1a" stroke="#1a1a1a" stroke-width="0.15">Vector</text>
<line x1="560.9" y1="358.69" x2="574" y2="358.69" stroke="#f0241c" stroke-width="0.6"/>
<rect x="565.65" y="356.89" width="3.6" height="3.6" fill="#f0241c"/>
<text x="580.5" y="361.19" font-size="7.2" fill="#1a1a1a" stroke="#1a1a1a" stroke-width="0.15">ICAM1</text>
<line x1="560.9" y1="368.51" x2="574" y2="368.51" stroke="#3c78d8" stroke-width="0.6"/>
<polygon points="567.45,366.31 569.65,370.05 565.25,370.05" fill="#3c78d8"/>
<text x="580.5" y="371.01" font-size="7.2" fill="#1a1a1a" stroke="#1a1a1a" stroke-width="0.15">Vector+ICG001</text>
<line x1="560.9" y1="379.85" x2="574" y2="379.85" stroke="#111" stroke-width="0.6"/>
<polygon points="567.45,382.05 569.65,378.31 565.25,378.31" fill="#111"/>
<text x="580.5" y="382.35" font-size="7.2" fill="#1a1a1a" stroke="#1a1a1a" stroke-width="0.15">ICAM1+ICG001</text>
<polyline points="602.42,348.61 606.7,348.61 606.7,358.69 602.42,358.69" fill="none" stroke="#3a3a3a" stroke-width="0.55" stroke-linejoin="round"/>
<text transform="translate(608.97 352.39) rotate(90)" font-size="4.9" text-anchor="middle" fill="#222"><tspan font-style="italic">P</tspan> = 0.0021</text>
<polyline points="631.39,348.61 635.67,348.61 635.67,368.51 631.39,368.51" fill="none" stroke="#3a3a3a" stroke-width="0.55" stroke-linejoin="round"/>
<text transform="translate(637.43 359.19) rotate(90)" font-size="4.9" text-anchor="middle" fill="#222"><tspan font-style="italic">P</tspan> = 0.0004</text>
<polyline points="645.24,358.69 649.27,358.69 649.27,379.85 645.24,379.85" fill="none" stroke="#3a3a3a" stroke-width="0.55" stroke-linejoin="round"/>
<text transform="translate(650.78 369.27) rotate(90)" font-size="4.9" text-anchor="middle" fill="#222"><tspan font-style="italic">P</tspan> &lt; 0.0001</text>
</g>
<g id="pk">
<defs><g id="mouse"><path d="M0 0.6C0.94 0.6 1.55 2 1.77 3.6C1.98 4.6 2.29 5.6 2.49 6.2L4.06 6.6C4.47 7 3.95 7.7 3.33 7.6L2.7 8.2C2.81 10 3.02 13 3.33 16C3.74 19 4.37 21 4.26 23.4C4.16 25.4 3.12 26.4 1.67 26.6C1.04 26.7 0.63 27 0.52 27.4L0.37 29.4L-0.37 29.4L-0.52 27.4C-0.63 27 -1.04 26.7 -1.67 26.6C-3.12 26.4 -4.16 25.4 -4.26 23.4C-4.37 21 -3.74 19 -3.33 16C-3.02 13 -2.81 10 -2.7 8.2L-3.33 7.6C-3.95 7.7 -4.47 7 -4.06 6.6L-2.49 6.2C-2.29 5.6 -1.98 4.6 -1.77 3.6C-1.55 2 -0.94 0.6 0 0.6Z" fill="#d8d8d8" stroke="#d8d8d8" stroke-width="1.8" stroke-linejoin="round" opacity="0.3"/><path d="M0 0.6C0.94 0.6 1.55 2 1.77 3.6C1.98 4.6 2.29 5.6 2.49 6.2L4.06 6.6C4.47 7 3.95 7.7 3.33 7.6L2.7 8.2C2.81 10 3.02 13 3.33 16C3.74 19 4.37 21 4.26 23.4C4.16 25.4 3.12 26.4 1.67 26.6C1.04 26.7 0.63 27 0.52 27.4L0.37 29.4L-0.37 29.4L-0.52 27.4C-0.63 27 -1.04 26.7 -1.67 26.6C-3.12 26.4 -4.16 25.4 -4.26 23.4C-4.37 21 -3.74 19 -3.33 16C-3.02 13 -2.81 10 -2.7 8.2L-3.33 7.6C-3.95 7.7 -4.47 7 -4.06 6.6L-2.49 6.2C-2.29 5.6 -1.98 4.6 -1.77 3.6C-1.55 2 -0.94 0.6 0 0.6Z" fill="#e0e0e0" stroke="#e0e0e0" stroke-width="0.8" stroke-linejoin="round" opacity="0.55"/><path d="M0 0.6C0.94 0.6 1.55 2 1.77 3.6C1.98 4.6 2.29 5.6 2.49 6.2L4.06 6.6C4.47 7 3.95 7.7 3.33 7.6L2.7 8.2C2.81 10 3.02 13 3.33 16C3.74 19 4.37 21 4.26 23.4C4.16 25.4 3.12 26.4 1.67 26.6C1.04 26.7 0.63 27 0.52 27.4L0.37 29.4L-0.37 29.4L-0.52 27.4C-0.63 27 -1.04 26.7 -1.67 26.6C-3.12 26.4 -4.16 25.4 -4.26 23.4C-4.37 21 -3.74 19 -3.33 16C-3.02 13 -2.81 10 -2.7 8.2L-3.33 7.6C-3.95 7.7 -4.47 7 -4.06 6.6L-2.49 6.2C-2.29 5.6 -1.98 4.6 -1.77 3.6C-1.55 2 -0.94 0.6 0 0.6Z" fill="#e6e6e6"/><ellipse cx="0" cy="18" rx="2.9" ry="7.6" fill="#f4f4f4" opacity="0.6"/><ellipse cx="0" cy="19" rx="2.0" ry="5.4" fill="#ffffff" opacity="0.7"/><ellipse cx="0" cy="3.8" rx="1.1" ry="2.2" fill="#f6f6f6" opacity="0.7"/></g></defs>
<text x="1" y="487.7" font-size="10" fill="#000" stroke="#000" stroke-width="0.21" font-weight="bold">k</text>
<text x="46.1" y="489.8" font-size="9" fill="#1a1a1a" stroke="#1a1a1a" stroke-width="0.18" text-anchor="middle">Vector</text>
<text x="111.5" y="489.8" font-size="9" fill="#1a1a1a" stroke="#1a1a1a" stroke-width="0.18" text-anchor="middle">ICAM1</text>
<text x="186.2" y="489.8" font-size="9" fill="#1a1a1a" stroke="#1a1a1a" stroke-width="0.18" text-anchor="middle">ICAM1+ICG001</text>
<polyline points="15.5,498.3 15.5,494.2 76.5,494.2 76.5,498.3" fill="none" stroke="#444" stroke-width="0.6" stroke-linejoin="round"/>
<polyline points="81.5,498.3 81.5,494.2 142.5,494.2 142.5,498.3" fill="none" stroke="#444" stroke-width="0.6" stroke-linejoin="round"/>
<polyline points="147.5,498.3 147.5,494.2 224.5,494.2 224.5,498.3" fill="none" stroke="#444" stroke-width="0.6" stroke-linejoin="round"/>
<text x="23.6" y="504.7" font-size="7.5" fill="#1a1a1a" stroke="#1a1a1a" stroke-width="0.15" text-anchor="middle">8</text>
<text x="38.5" y="504.7" font-size="7.5" fill="#1a1a1a" stroke="#1a1a1a" stroke-width="0.15" text-anchor="middle">14</text>
<text x="54.5" y="504.7" font-size="7.5" fill="#1a1a1a" stroke="#1a1a1a" stroke-width="0.15" text-anchor="middle">21</text>
<text x="69.1" y="504.7" font-size="7.5" fill="#1a1a1a" stroke="#1a1a1a" stroke-width="0.15" text-anchor="middle">25</text>
<text x="89.4" y="504.7" font-size="7.5" fill="#1a1a1a" stroke="#1a1a1a" stroke-width="0.15" text-anchor="middle">8</text>
<text x="104.5" y="504.7" font-size="7.5" fill="#1a1a1a" stroke="#1a1a1a" stroke-width="0.15" text-anchor="middle">14</text>
<text x="119.7" y="504.7" font-size="7.5" fill="#1a1a1a" stroke="#1a1a1a" stroke-width="0.15" text-anchor="middle">21</text>
<text x="133.3" y="504.7" font-size="7.5" fill="#1a1a1a" stroke="#1a1a1a" stroke-width="0.15" text-anchor="middle">25</text>
<text x="153" y="504.7" font-size="7.5" fill="#1a1a1a" stroke="#1a1a1a" stroke-width="0.15" text-anchor="middle">8</text>
<text x="168.8" y="504.7" font-size="7.5" fill="#1a1a1a" stroke="#1a1a1a" stroke-width="0.15" text-anchor="middle">14</text>
<text x="184" y="504.7" font-size="7.5" fill="#1a1a1a" stroke="#1a1a1a" stroke-width="0.15" text-anchor="middle">21</text>
<text x="200.6" y="504.7" font-size="7.5" fill="#1a1a1a" stroke="#1a1a1a" stroke-width="0.15" text-anchor="middle">25</text>
<text x="217" y="504.7" font-size="7.5" fill="#1a1a1a" stroke="#1a1a1a" stroke-width="0.15" text-anchor="middle">28 d</text>
<rect x="16.7" y="508" width="60.5" height="155.8" fill="#fff" stroke="#3fcf7a" stroke-width="1.5"/>
<rect x="17.3" y="508.5" width="13.4" height="29.5" fill="#484848"/>
<use href="#mouse" transform="translate(24 508.5)"/>
<rect x="32.3" y="508.5" width="13.4" height="29.5" fill="#484848"/>
<use href="#mouse" transform="translate(39 508.5)"/>
<rect x="47.9" y="508.5" width="13.4" height="29.5" fill="#484848"/>
<use href="#mouse" transform="translate(54.6 508.5)"/>
<circle cx="54.8" cy="512.3" r="1.5" fill="#3a3af0" filter="url(#b05)"/>
<circle cx="54.8" cy="512.3" r="0.9" fill="#e8a030" filter="url(#b05)"/>
<rect x="63.1" y="508.5" width="13.5" height="29.5" fill="#6f6b6e"/>
<rect x="17.3" y="539.4" width="13.4" height="30.5" fill="#484848"/>
<use href="#mouse" transform="translate(24 539.4)"/>
<rect x="32.3" y="539.4" width="13.4" height="30.5" fill="#484848"/>
<use href="#mouse" transform="translate(39 539.4)"/>
<rect x="47.9" y="539.4" width="13.4" height="30.5" fill="#484848"/>
<use href="#mouse" transform="translate(54.6 539.4)"/>
<circle cx="54.8" cy="543.2" r="1.5" fill="#3a3af0" filter="url(#b05)"/>
<circle cx="54.8" cy="543.2" r="0.9" fill="#e8a030" filter="url(#b05)"/>
<rect x="63.1" y="539.4" width="13.5" height="30.5" fill="#484848"/>
<use href="#mouse" transform="translate(69.85 539.4)"/>
<circle cx="70.05" cy="543.2" r="2.5" fill="#3a3af0" filter="url(#b05)"/>
<circle cx="70.05" cy="543.2" r="1.9" fill="#60d840" filter="url(#b05)"/>
<circle cx="70.05" cy="543.2" r="1.7" fill="#f01810" filter="url(#b05)"/>
<rect x="17.3" y="571.2" width="13.4" height="30.6" fill="#484848"/>
<use href="#mouse" transform="translate(24 571.2)"/>
<rect x="32.3" y="571.2" width="13.4" height="30.6" fill="#484848"/>
<use href="#mouse" transform="translate(39 571.2)"/>
<circle cx="39.2" cy="575" r="0.8" fill="#3a3af0" filter="url(#b05)"/>
<rect x="47.9" y="571.2" width="13.4" height="30.6" fill="#484848"/>
<use href="#mouse" transform="translate(54.6 571.2)"/>
<circle cx="54.8" cy="575" r="1.5" fill="#3a3af0" filter="url(#b05)"/>
<circle cx="54.8" cy="575" r="0.9" fill="#e8a030" filter="url(#b05)"/>
<rect x="63.1" y="571.2" width="13.5" height="30.6" fill="#484848"/>
<use href="#mouse" transform="translate(69.85 571.2)"/>
<circle cx="70.05" cy="575" r="2" fill="#3a3af0" filter="url(#b05)"/>
<circle cx="70.05" cy="575" r="1.4" fill="#60d840" filter="url(#b05)"/>
<circle cx="70.05" cy="575" r="1.2" fill="#f01810" filter="url(#b05)"/>
<rect x="17.3" y="603.1" width="13.4" height="29.9" fill="#484848"/>
<use href="#mouse" transform="translate(24 603.1)"/>
<rect x="32.3" y="603.1" width="13.4" height="29.9" fill="#484848"/>
<use href="#mouse" transform="translate(39 603.1)"/>
<circle cx="39.2" cy="606.9" r="0.8" fill="#3a3af0" filter="url(#b05)"/>
<rect x="47.9" y="603.1" width="13.4" height="29.9" fill="#484848"/>
<use href="#mouse" transform="translate(54.6 603.1)"/>
<circle cx="54.8" cy="606.9" r="2" fill="#3a3af0" filter="url(#b05)"/>
<circle cx="54.8" cy="606.9" r="1.4" fill="#60d840" filter="url(#b05)"/>
<circle cx="54.8" cy="606.9" r="1.2" fill="#f01810" filter="url(#b05)"/>
<rect x="63.1" y="603.1" width="13.5" height="29.9" fill="#484848"/>
<use href="#mouse" transform="translate(69.85 603.1)"/>
<circle cx="70.05" cy="606.9" r="2" fill="#3a3af0" filter="url(#b05)"/>
<circle cx="70.05" cy="606.9" r="1.4" fill="#60d840" filter="url(#b05)"/>
<circle cx="70.05" cy="606.9" r="1.2" fill="#f01810" filter="url(#b05)"/>
<rect x="17.3" y="634.3" width="13.4" height="28.9" fill="#484848"/>
<use href="#mouse" transform="translate(24 634.3)"/>
<rect x="32.3" y="634.3" width="13.4" height="28.9" fill="#484848"/>
<use href="#mouse" transform="translate(39 634.3)"/>
<rect x="47.9" y="634.3" width="13.4" height="28.9" fill="#484848"/>
<use href="#mouse" transform="translate(54.6 634.3)"/>
<circle cx="54.8" cy="638.1" r="0.8" fill="#3a3af0" filter="url(#b05)"/>
<rect x="63.1" y="634.3" width="13.5" height="28.9" fill="#484848"/>
<use href="#mouse" transform="translate(69.85 634.3)"/>
<circle cx="70.05" cy="638.1" r="2" fill="#3a3af0" filter="url(#b05)"/>
<circle cx="70.05" cy="638.1" r="1.4" fill="#60d840" filter="url(#b05)"/>
<circle cx="70.05" cy="638.1" r="1.2" fill="#f01810" filter="url(#b05)"/>
<rect x="82" y="508" width="60.9" height="155.8" fill="#fff" stroke="#f0281e" stroke-width="1.5"/>
<rect x="82.7" y="508.5" width="13.1" height="29.5" fill="#484848"/>
<use href="#mouse" transform="translate(89.25 508.5)"/>
<rect x="97.8" y="508.5" width="13.1" height="29.5" fill="#484848"/>
<use href="#mouse" transform="translate(104.35 508.5)"/>
<circle cx="104.55" cy="512.3" r="0.8" fill="#3a3af0" filter="url(#b05)"/>
<rect x="113.2" y="508.5" width="13.1" height="29.5" fill="#484848"/>
<use href="#mouse" transform="translate(119.75 508.5)"/>
<circle cx="119.95" cy="512.3" r="1.5" fill="#3a3af0" filter="url(#b05)"/>
<circle cx="119.95" cy="512.3" r="0.9" fill="#e8a030" filter="url(#b05)"/>
<rect x="128.8" y="508.5" width="13.5" height="29.5" fill="#6f6b6e"/>
<rect x="82.7" y="539.4" width="13.1" height="30.5" fill="#484848"/>
<use href="#mouse" transform="translate(89.25 539.4)"/>
<rect x="97.8" y="539.4" width="13.1" height="30.5" fill="#484848"/>
<use href="#mouse" transform="translate(104.35 539.4)"/>
<circle cx="104.55" cy="543.2" r="0.8" fill="#3a3af0" filter="url(#b05)"/>
<rect x="113.2" y="539.4" width="13.1" height="30.5" fill="#484848"/>
<use href="#mouse" transform="translate(119.75 539.4)"/>
<circle cx="119.95" cy="543.2" r="2.5" fill="#3a3af0" filter="url(#b05)"/>
<circle cx="119.95" cy="543.2" r="1.9" fill="#60d840" filter="url(#b05)"/>
<circle cx="119.95" cy="543.2" r="1.7" fill="#f01810" filter="url(#b05)"/>
<rect x="128.8" y="539.4" width="13.5" height="30.5" fill="#484848"/>
<use href="#mouse" transform="translate(135.55 539.4)"/>
<circle cx="135.75" cy="543.2" r="2.9" fill="#3a3af0" filter="url(#b05)"/>
<circle cx="135.75" cy="543.2" r="2.3" fill="#60d840" filter="url(#b05)"/>
<circle cx="135.75" cy="543.2" r="2.1" fill="#f01810" filter="url(#b05)"/>
<rect x="82.7" y="571.2" width="13.1" height="30.6" fill="#484848"/>
<use href="#mouse" transform="translate(89.25 571.2)"/>
<rect x="97.8" y="571.2" width="13.1" height="30.6" fill="#484848"/>
<use href="#mouse" transform="translate(104.35 571.2)"/>
<circle cx="104.55" cy="575" r="1.5" fill="#3a3af0" filter="url(#b05)"/>
<circle cx="104.55" cy="575" r="0.9" fill="#e8a030" filter="url(#b05)"/>
<rect x="113.2" y="571.2" width="13.1" height="30.6" fill="#484848"/>
<use href="#mouse" transform="translate(119.75 571.2)"/>
<circle cx="119.95" cy="575" r="2.9" fill="#3a3af0" filter="url(#b05)"/>
<circle cx="119.95" cy="575" r="2.3" fill="#60d840" filter="url(#b05)"/>
<circle cx="119.95" cy="575" r="2.1" fill="#f01810" filter="url(#b05)"/>
<rect x="128.8" y="571.2" width="13.5" height="30.6" fill="#484848"/>
<use href="#mouse" transform="translate(135.55 571.2)"/>
<circle cx="135.75" cy="575" r="2.9" fill="#3a3af0" filter="url(#b05)"/>
<circle cx="135.75" cy="575" r="2.3" fill="#60d840" filter="url(#b05)"/>
<circle cx="135.75" cy="575" r="2.1" fill="#f01810" filter="url(#b05)"/>
<rect x="82.7" y="603.1" width="13.1" height="29.9" fill="#484848"/>
<use href="#mouse" transform="translate(89.25 603.1)"/>
<rect x="97.8" y="603.1" width="13.1" height="29.9" fill="#484848"/>
<use href="#mouse" transform="translate(104.35 603.1)"/>
<circle cx="104.55" cy="606.9" r="0.8" fill="#3a3af0" filter="url(#b05)"/>
<rect x="113.2" y="603.1" width="13.1" height="29.9" fill="#484848"/>
<use href="#mouse" transform="translate(119.75 603.1)"/>
<circle cx="119.95" cy="606.9" r="2" fill="#3a3af0" filter="url(#b05)"/>
<circle cx="119.95" cy="606.9" r="1.4" fill="#60d840" filter="url(#b05)"/>
<circle cx="119.95" cy="606.9" r="1.2" fill="#f01810" filter="url(#b05)"/>
<rect x="128.8" y="603.1" width="13.5" height="29.9" fill="#484848"/>
<use href="#mouse" transform="translate(135.55 603.1)"/>
<circle cx="135.75" cy="606.9" r="2.5" fill="#3a3af0" filter="url(#b05)"/>
<circle cx="135.75" cy="606.9" r="1.9" fill="#60d840" filter="url(#b05)"/>
<circle cx="135.75" cy="606.9" r="1.7" fill="#f01810" filter="url(#b05)"/>
<rect x="82.7" y="634.3" width="13.1" height="28.9" fill="#484848"/>
<use href="#mouse" transform="translate(89.25 634.3)"/>
<rect x="97.8" y="634.3" width="13.1" height="28.9" fill="#484848"/>
<use href="#mouse" transform="translate(104.35 634.3)"/>
<circle cx="104.55" cy="638.1" r="0.8" fill="#3a3af0" filter="url(#b05)"/>
<rect x="113.2" y="634.3" width="13.1" height="28.9" fill="#484848"/>
<use href="#mouse" transform="translate(119.75 634.3)"/>
<circle cx="119.95" cy="638.1" r="2.5" fill="#3a3af0" filter="url(#b05)"/>
<circle cx="119.95" cy="638.1" r="1.9" fill="#60d840" filter="url(#b05)"/>
<circle cx="119.95" cy="638.1" r="1.7" fill="#f01810" filter="url(#b05)"/>
<rect x="128.8" y="634.3" width="13.5" height="28.9" fill="#484848"/>
<use href="#mouse" transform="translate(135.55 634.3)"/>
<circle cx="135.75" cy="638.1" r="2.5" fill="#3a3af0" filter="url(#b05)"/>
<circle cx="135.75" cy="638.1" r="1.9" fill="#60d840" filter="url(#b05)"/>
<circle cx="135.75" cy="638.1" r="1.7" fill="#f01810" filter="url(#b05)"/>
<rect x="147.9" y="508" width="75.7" height="155.8" fill="#fff" stroke="#3b78d0" stroke-width="1.5"/>
<rect x="148.5" y="508.5" width="12.3" height="29.5" fill="#484848"/>
<use href="#mouse" transform="translate(154.65 508.5)"/>
<rect x="162.4" y="508.5" width="14" height="29.5" fill="#484848"/>
<use href="#mouse" transform="translate(169.4 508.5)"/>
<rect x="178.1" y="508.5" width="13.7" height="29.5" fill="#484848"/>
<use href="#mouse" transform="translate(184.95 508.5)"/>
<rect x="193.6" y="508.5" width="13.9" height="29.5" fill="#484848"/>
<use href="#mouse" transform="translate(200.55 508.5)"/>
<rect x="209.3" y="508.5" width="13.7" height="29.5" fill="#484848"/>
<use href="#mouse" transform="translate(216.15 508.5)"/>
<rect x="148.5" y="539.4" width="12.3" height="30.5" fill="#484848"/>
<use href="#mouse" transform="translate(154.65 539.4)"/>
<rect x="162.4" y="539.4" width="14" height="30.5" fill="#484848"/>
<use href="#mouse" transform="translate(169.4 539.4)"/>
<rect x="178.1" y="539.4" width="13.7" height="30.5" fill="#484848"/>
<use href="#mouse" transform="translate(184.95 539.4)"/>
<rect x="193.6" y="539.4" width="13.9" height="30.5" fill="#484848"/>
<use href="#mouse" transform="translate(200.55 539.4)"/>
<rect x="209.3" y="539.4" width="13.7" height="30.5" fill="#484848"/>
<use href="#mouse" transform="translate(216.15 539.4)"/>
<rect x="148.5" y="571.2" width="12.3" height="30.6" fill="#484848"/>
<use href="#mouse" transform="translate(154.65 571.2)"/>
<rect x="162.4" y="571.2" width="14" height="30.6" fill="#484848"/>
<use href="#mouse" transform="translate(169.4 571.2)"/>
<rect x="178.1" y="571.2" width="13.7" height="30.6" fill="#484848"/>
<use href="#mouse" transform="translate(184.95 571.2)"/>
<rect x="193.6" y="571.2" width="13.9" height="30.6" fill="#484848"/>
<use href="#mouse" transform="translate(200.55 571.2)"/>
<rect x="209.3" y="571.2" width="13.7" height="30.6" fill="#484848"/>
<use href="#mouse" transform="translate(216.15 571.2)"/>
<rect x="148.5" y="603.1" width="12.3" height="29.9" fill="#484848"/>
<use href="#mouse" transform="translate(154.65 603.1)"/>
<rect x="162.4" y="603.1" width="14" height="29.9" fill="#484848"/>
<use href="#mouse" transform="translate(169.4 603.1)"/>
<rect x="178.1" y="603.1" width="13.7" height="29.9" fill="#484848"/>
<use href="#mouse" transform="translate(184.95 603.1)"/>
<rect x="193.6" y="603.1" width="13.9" height="29.9" fill="#484848"/>
<use href="#mouse" transform="translate(200.55 603.1)"/>
<rect x="209.3" y="603.1" width="13.7" height="29.9" fill="#484848"/>
<use href="#mouse" transform="translate(216.15 603.1)"/>
<rect x="148.5" y="634.3" width="12.3" height="28.9" fill="#484848"/>
<use href="#mouse" transform="translate(154.65 634.3)"/>
<rect x="162.4" y="634.3" width="14" height="28.9" fill="#484848"/>
<use href="#mouse" transform="translate(169.4 634.3)"/>
<rect x="178.1" y="634.3" width="13.7" height="28.9" fill="#484848"/>
<use href="#mouse" transform="translate(184.95 634.3)"/>
<rect x="193.6" y="634.3" width="13.9" height="28.9" fill="#484848"/>
<use href="#mouse" transform="translate(200.55 634.3)"/>
<circle cx="200.75" cy="638.1" r="0.8" fill="#3a3af0" filter="url(#b05)"/>
<rect x="209.3" y="634.3" width="13.7" height="28.9" fill="#484848"/>
<use href="#mouse" transform="translate(216.15 634.3)"/>
<circle cx="216.35" cy="638.1" r="0.8" fill="#3a3af0" filter="url(#b05)"/>
<rect x="229.8" y="513.6" width="3.5" height="123.4" fill="url(#cbar)"/>
<line x1="228.9" y1="515" x2="229.8" y2="515" stroke="#444" stroke-width="0.35"/>
<line x1="228.9" y1="521.05" x2="229.8" y2="521.05" stroke="#444" stroke-width="0.35"/>
<line x1="228.9" y1="527.1" x2="229.8" y2="527.1" stroke="#444" stroke-width="0.35"/>
<line x1="228.9" y1="533.15" x2="229.8" y2="533.15" stroke="#444" stroke-width="0.35"/>
<line x1="228.9" y1="539.2" x2="229.8" y2="539.2" stroke="#444" stroke-width="0.35"/>
<line x1="228.9" y1="545.25" x2="229.8" y2="545.25" stroke="#444" stroke-width="0.35"/>
<line x1="228.9" y1="551.3" x2="229.8" y2="551.3" stroke="#444" stroke-width="0.35"/>
<line x1="228.9" y1="557.35" x2="229.8" y2="557.35" stroke="#444" stroke-width="0.35"/>
<line x1="228.9" y1="563.4" x2="229.8" y2="563.4" stroke="#444" stroke-width="0.35"/>
<line x1="228.9" y1="569.45" x2="229.8" y2="569.45" stroke="#444" stroke-width="0.35"/>
<line x1="228.9" y1="575.5" x2="229.8" y2="575.5" stroke="#444" stroke-width="0.35"/>
<line x1="228.9" y1="581.55" x2="229.8" y2="581.55" stroke="#444" stroke-width="0.35"/>
<line x1="228.9" y1="587.6" x2="229.8" y2="587.6" stroke="#444" stroke-width="0.35"/>
<line x1="228.9" y1="593.65" x2="229.8" y2="593.65" stroke="#444" stroke-width="0.35"/>
<line x1="228.9" y1="599.7" x2="229.8" y2="599.7" stroke="#444" stroke-width="0.35"/>
<line x1="228.9" y1="605.75" x2="229.8" y2="605.75" stroke="#444" stroke-width="0.35"/>
<line x1="228.9" y1="611.8" x2="229.8" y2="611.8" stroke="#444" stroke-width="0.35"/>
<line x1="228.9" y1="617.85" x2="229.8" y2="617.85" stroke="#444" stroke-width="0.35"/>
<line x1="228.9" y1="623.9" x2="229.8" y2="623.9" stroke="#444" stroke-width="0.35"/>
<line x1="228.9" y1="629.95" x2="229.8" y2="629.95" stroke="#444" stroke-width="0.35"/>
<line x1="228.9" y1="636" x2="229.8" y2="636" stroke="#444" stroke-width="0.35"/>
<text font-size="6.5" fill="#1a1a1a" stroke="#1a1a1a" stroke-width="0.13" transform="translate(234.1 508.2) rotate(-90)">Lumin</text>
<text font-size="6.5" fill="#1a1a1a" stroke="#1a1a1a" stroke-width="0.13" text-anchor="middle" transform="translate(244.3 533.4) rotate(-90)">2.0 ×10<tspan font-size="4.2" dy="-2.2">7</tspan></text>
<text font-size="6.5" fill="#1a1a1a" stroke="#1a1a1a" stroke-width="0.13" text-anchor="middle" transform="translate(244.3 564.8) rotate(-90)">1.5</text>
<text font-size="6.5" fill="#1a1a1a" stroke="#1a1a1a" stroke-width="0.13" text-anchor="middle" transform="translate(244.3 589.8) rotate(-90)">1.0</text>
<text font-size="6.5" fill="#1a1a1a" stroke="#1a1a1a" stroke-width="0.13" transform="translate(234.1 666.6) rotate(-90)">Radiance</text>
<text font-size="6.5" fill="#1a1a1a" stroke="#1a1a1a" stroke-width="0.13" transform="translate(244.3 666.6) rotate(-90)">(p/sec/cm<tspan font-size="3.9" dy="-2.2">2</tspan><tspan dy="2.2">/sr)</tspan></text>
</g>
<g id="pl">
<text x="265.9" y="487.7" font-size="10" fill="#000" stroke="#000" stroke-width="0.21" font-weight="bold">l</text>
<text x="380" y="489.8" font-size="9" fill="#1a1a1a" stroke="#1a1a1a" stroke-width="0.18" text-anchor="middle">X01</text>
<line x1="300.6" y1="492.6" x2="300.6" y2="632.55" stroke="#2a2a2a" stroke-width="0.9"/>
<line x1="300.3" y1="632.25" x2="463.9" y2="632.25" stroke="#2a2a2a" stroke-width="0.9"/>
<line x1="297.8" y1="632.25" x2="300.6" y2="632.25" stroke="#2a2a2a" stroke-width="0.9"/>
<text x="296.6" y="634.75" font-size="7.2" fill="#1a1a1a" stroke="#1a1a1a" stroke-width="0.15" text-anchor="end">0</text>
<line x1="297.8" y1="604.38" x2="300.6" y2="604.38" stroke="#2a2a2a" stroke-width="0.9"/>
<text x="296.6" y="606.88" font-size="7.2" fill="#1a1a1a" stroke="#1a1a1a" stroke-width="0.15" text-anchor="end">30</text>
<line x1="297.8" y1="576.51" x2="300.6" y2="576.51" stroke="#2a2a2a" stroke-width="0.9"/>
<text x="296.6" y="579.01" font-size="7.2" fill="#1a1a1a" stroke="#1a1a1a" stroke-width="0.15" text-anchor="end">60</text>
<line x1="297.8" y1="548.64" x2="300.6" y2="548.64" stroke="#2a2a2a" stroke-width="0.9"/>
<text x="296.6" y="551.14" font-size="7.2" fill="#1a1a1a" stroke="#1a1a1a" stroke-width="0.15" text-anchor="end">90</text>
<line x1="297.8" y1="520.77" x2="300.6" y2="520.77" stroke="#2a2a2a" stroke-width="0.9"/>
<text x="296.6" y="523.27" font-size="7.2" fill="#1a1a1a" stroke="#1a1a1a" stroke-width="0.15" text-anchor="end">120</text>
<line x1="297.8" y1="492.9" x2="300.6" y2="492.9" stroke="#2a2a2a" stroke-width="0.9"/>
<text x="296.6" y="495.4" font-size="7.2" fill="#1a1a1a" stroke="#1a1a1a" stroke-width="0.15" text-anchor="end">150</text>
<line x1="300.6" y1="632.25" x2="300.6" y2="635.25" stroke="#2a2a2a" stroke-width="0.9"/>
<text x="300.6" y="644" font-size="7.2" fill="#1a1a1a" stroke="#1a1a1a" stroke-width="0.15" text-anchor="middle">0</text>
<line x1="318.71" y1="632.25" x2="318.71" y2="635.25" stroke="#2a2a2a" stroke-width="0.9"/>
<text x="318.71" y="644" font-size="7.2" fill="#1a1a1a" stroke="#1a1a1a" stroke-width="0.15" text-anchor="middle">5</text>
<line x1="336.82" y1="632.25" x2="336.82" y2="635.25" stroke="#2a2a2a" stroke-width="0.9"/>
<text x="336.82" y="644" font-size="7.2" fill="#1a1a1a" stroke="#1a1a1a" stroke-width="0.15" text-anchor="middle">10</text>
<line x1="354.93" y1="632.25" x2="354.93" y2="635.25" stroke="#2a2a2a" stroke-width="0.9"/>
<text x="354.93" y="644" font-size="7.2" fill="#1a1a1a" stroke="#1a1a1a" stroke-width="0.15" text-anchor="middle">15</text>
<line x1="373.04" y1="632.25" x2="373.04" y2="635.25" stroke="#2a2a2a" stroke-width="0.9"/>
<text x="373.04" y="644" font-size="7.2" fill="#1a1a1a" stroke="#1a1a1a" stroke-width="0.15" text-anchor="middle">20</text>
<line x1="391.16" y1="632.25" x2="391.16" y2="635.25" stroke="#2a2a2a" stroke-width="0.9"/>
<text x="391.16" y="644" font-size="7.2" fill="#1a1a1a" stroke="#1a1a1a" stroke-width="0.15" text-anchor="middle">25</text>
<line x1="409.27" y1="632.25" x2="409.27" y2="635.25" stroke="#2a2a2a" stroke-width="0.9"/>
<text x="409.27" y="644" font-size="7.2" fill="#1a1a1a" stroke="#1a1a1a" stroke-width="0.15" text-anchor="middle">30</text>
<line x1="427.38" y1="632.25" x2="427.38" y2="635.25" stroke="#2a2a2a" stroke-width="0.9"/>
<text x="427.38" y="644" font-size="7.2" fill="#1a1a1a" stroke="#1a1a1a" stroke-width="0.15" text-anchor="middle">35</text>
<line x1="445.49" y1="632.25" x2="445.49" y2="635.25" stroke="#2a2a2a" stroke-width="0.9"/>
<text x="445.49" y="644" font-size="7.2" fill="#1a1a1a" stroke="#1a1a1a" stroke-width="0.15" text-anchor="middle">40</text>
<line x1="463.6" y1="632.25" x2="463.6" y2="635.25" stroke="#2a2a2a" stroke-width="0.9"/>
<text x="463.6" y="644" font-size="7.2" fill="#1a1a1a" stroke="#1a1a1a" stroke-width="0.15" text-anchor="middle">45</text>
<polyline points="300.6,539.35 318.71,528.2 329.58,522.63 351.31,522.63 376.67,523.09 391.16,523.56 402.02,519.84 416.51,521.7 427.38,530.06 438.24,534.7 449.11,541.21" fill="none" stroke="#3f7fd8" stroke-width="0.8" stroke-linejoin="round"/>
<line x1="318.71" y1="528.2" x2="318.71" y2="522.63" stroke="#3f7fd8" stroke-width="0.8"/>
<line x1="316.71" y1="522.63" x2="320.71" y2="522.63" stroke="#3f7fd8" stroke-width="0.8"/>
<line x1="329.58" y1="522.63" x2="329.58" y2="517.05" stroke="#3f7fd8" stroke-width="0.8"/>
<line x1="327.58" y1="517.05" x2="331.58" y2="517.05" stroke="#3f7fd8" stroke-width="0.8"/>
<line x1="351.31" y1="522.63" x2="351.31" y2="516.59" stroke="#3f7fd8" stroke-width="0.8"/>
<line x1="349.31" y1="516.59" x2="353.31" y2="516.59" stroke="#3f7fd8" stroke-width="0.8"/>
<line x1="376.67" y1="523.09" x2="376.67" y2="517.98" stroke="#3f7fd8" stroke-width="0.8"/>
<line x1="374.67" y1="517.98" x2="378.67" y2="517.98" stroke="#3f7fd8" stroke-width="0.8"/>
<line x1="391.16" y1="523.56" x2="391.16" y2="517.98" stroke="#3f7fd8" stroke-width="0.8"/>
<line x1="389.16" y1="517.98" x2="393.16" y2="517.98" stroke="#3f7fd8" stroke-width="0.8"/>
<line x1="402.02" y1="519.84" x2="402.02" y2="514.27" stroke="#3f7fd8" stroke-width="0.8"/>
<line x1="400.02" y1="514.27" x2="404.02" y2="514.27" stroke="#3f7fd8" stroke-width="0.8"/>
<line x1="416.51" y1="521.7" x2="416.51" y2="517.52" stroke="#3f7fd8" stroke-width="0.8"/>
<line x1="414.51" y1="517.52" x2="418.51" y2="517.52" stroke="#3f7fd8" stroke-width="0.8"/>
<line x1="427.38" y1="530.06" x2="427.38" y2="522.63" stroke="#3f7fd8" stroke-width="0.8"/>
<line x1="425.38" y1="522.63" x2="429.38" y2="522.63" stroke="#3f7fd8" stroke-width="0.8"/>
<line x1="438.24" y1="534.7" x2="438.24" y2="517.98" stroke="#3f7fd8" stroke-width="0.8"/>
<line x1="436.24" y1="517.98" x2="440.24" y2="517.98" stroke="#3f7fd8" stroke-width="0.8"/>
<line x1="449.11" y1="541.21" x2="449.11" y2="522.63" stroke="#3f7fd8" stroke-width="0.8"/>
<line x1="447.11" y1="522.63" x2="451.11" y2="522.63" stroke="#3f7fd8" stroke-width="0.8"/>
<polyline points="300.6,539.35 318.71,535.63 329.58,530.99 351.31,528.2 376.67,539.35 391.16,551.43" fill="none" stroke="#f0241c" stroke-width="0.8" stroke-linejoin="round"/>
<line x1="318.71" y1="535.63" x2="318.71" y2="533.78" stroke="#f0241c" stroke-width="0.8"/>
<line x1="316.71" y1="533.78" x2="320.71" y2="533.78" stroke="#f0241c" stroke-width="0.8"/>
<line x1="329.58" y1="530.99" x2="329.58" y2="526.34" stroke="#f0241c" stroke-width="0.8"/>
<line x1="327.58" y1="526.34" x2="331.58" y2="526.34" stroke="#f0241c" stroke-width="0.8"/>
<line x1="351.31" y1="528.2" x2="351.31" y2="522.63" stroke="#f0241c" stroke-width="0.8"/>
<line x1="349.31" y1="522.63" x2="353.31" y2="522.63" stroke="#f0241c" stroke-width="0.8"/>
<line x1="376.67" y1="539.35" x2="376.67" y2="535.63" stroke="#f0241c" stroke-width="0.8"/>
<line x1="374.67" y1="535.63" x2="378.67" y2="535.63" stroke="#f0241c" stroke-width="0.8"/>
<line x1="391.16" y1="551.43" x2="391.16" y2="547.71" stroke="#f0241c" stroke-width="0.8"/>
<line x1="389.16" y1="547.71" x2="393.16" y2="547.71" stroke="#f0241c" stroke-width="0.8"/>
<polyline points="300.6,539.35 318.71,536.56 329.58,530.99 351.31,528.2 376.67,531.45 391.16,535.63 402.02,535.63 416.51,537.96" fill="none" stroke="#4fd68a" stroke-width="0.8" stroke-linejoin="round"/>
<line x1="318.71" y1="536.56" x2="318.71" y2="533.78" stroke="#4fd68a" stroke-width="0.8"/>
<line x1="316.71" y1="533.78" x2="320.71" y2="533.78" stroke="#4fd68a" stroke-width="0.8"/>
<line x1="329.58" y1="530.99" x2="329.58" y2="528.2" stroke="#4fd68a" stroke-width="0.8"/>
<line x1="327.58" y1="528.2" x2="331.58" y2="528.2" stroke="#4fd68a" stroke-width="0.8"/>
<line x1="351.31" y1="528.2" x2="351.31" y2="525.41" stroke="#4fd68a" stroke-width="0.8"/>
<line x1="349.31" y1="525.41" x2="353.31" y2="525.41" stroke="#4fd68a" stroke-width="0.8"/>
<line x1="376.67" y1="531.45" x2="376.67" y2="524.02" stroke="#4fd68a" stroke-width="0.8"/>
<line x1="374.67" y1="524.02" x2="378.67" y2="524.02" stroke="#4fd68a" stroke-width="0.8"/>
<line x1="391.16" y1="535.63" x2="391.16" y2="523.56" stroke="#4fd68a" stroke-width="0.8"/>
<line x1="389.16" y1="523.56" x2="393.16" y2="523.56" stroke="#4fd68a" stroke-width="0.8"/>
<line x1="402.02" y1="535.63" x2="402.02" y2="518.91" stroke="#4fd68a" stroke-width="0.8"/>
<line x1="400.02" y1="518.91" x2="404.02" y2="518.91" stroke="#4fd68a" stroke-width="0.8"/>
<line x1="416.51" y1="537.96" x2="416.51" y2="526.34" stroke="#4fd68a" stroke-width="0.8"/>
<line x1="414.51" y1="526.34" x2="418.51" y2="526.34" stroke="#4fd68a" stroke-width="0.8"/>
<polygon points="300.6,537.15 302.6,540.75 298.6,540.75" fill="#fff" stroke="#3f7fd8" stroke-width="0.75"/>
<polygon points="318.71,526 320.71,529.6 316.71,529.6" fill="#fff" stroke="#3f7fd8" stroke-width="0.75"/>
<polygon points="329.58,520.43 331.58,524.03 327.58,524.03" fill="#fff" stroke="#3f7fd8" stroke-width="0.75"/>
<polygon points="351.31,520.43 353.31,524.03 349.31,524.03" fill="#fff" stroke="#3f7fd8" stroke-width="0.75"/>
<polygon points="376.67,520.89 378.67,524.49 374.67,524.49" fill="#fff" stroke="#3f7fd8" stroke-width="0.75"/>
<polygon points="391.16,521.36 393.16,524.96 389.16,524.96" fill="#fff" stroke="#3f7fd8" stroke-width="0.75"/>
<polygon points="402.02,517.64 404.02,521.24 400.02,521.24" fill="#fff" stroke="#3f7fd8" stroke-width="0.75"/>
<polygon points="416.51,519.5 418.51,523.1 414.51,523.1" fill="#fff" stroke="#3f7fd8" stroke-width="0.75"/>
<polygon points="427.38,527.86 429.38,531.46 425.38,531.46" fill="#fff" stroke="#3f7fd8" stroke-width="0.75"/>
<polygon points="438.24,532.5 440.24,536.1 436.24,536.1" fill="#fff" stroke="#3f7fd8" stroke-width="0.75"/>
<polygon points="449.11,539.01 451.11,542.61 447.11,542.61" fill="#fff" stroke="#3f7fd8" stroke-width="0.75"/>
<rect x="299" y="537.75" width="3.2" height="3.2" fill="#fff" stroke="#f0241c" stroke-width="0.75"/>
<rect x="317.11" y="534.03" width="3.2" height="3.2" fill="#fff" stroke="#f0241c" stroke-width="0.75"/>
<rect x="327.98" y="529.39" width="3.2" height="3.2" fill="#fff" stroke="#f0241c" stroke-width="0.75"/>
<rect x="349.71" y="526.6" width="3.2" height="3.2" fill="#fff" stroke="#f0241c" stroke-width="0.75"/>
<rect x="375.07" y="537.75" width="3.2" height="3.2" fill="#fff" stroke="#f0241c" stroke-width="0.75"/>
<rect x="389.56" y="549.83" width="3.2" height="3.2" fill="#fff" stroke="#f0241c" stroke-width="0.75"/>
<circle cx="300.6" cy="539.35" r="1.7" fill="#fff" stroke="#4fd68a" stroke-width="0.75"/>
<circle cx="318.71" cy="536.56" r="1.7" fill="#fff" stroke="#4fd68a" stroke-width="0.75"/>
<circle cx="329.58" cy="530.99" r="1.7" fill="#fff" stroke="#4fd68a" stroke-width="0.75"/>
<circle cx="351.31" cy="528.2" r="1.7" fill="#fff" stroke="#4fd68a" stroke-width="0.75"/>
<circle cx="376.67" cy="531.45" r="1.7" fill="#fff" stroke="#4fd68a" stroke-width="0.75"/>
<circle cx="391.16" cy="535.63" r="1.7" fill="#fff" stroke="#4fd68a" stroke-width="0.75"/>
<circle cx="402.02" cy="535.63" r="1.7" fill="#fff" stroke="#4fd68a" stroke-width="0.75"/>
<circle cx="416.51" cy="537.96" r="1.7" fill="#fff" stroke="#4fd68a" stroke-width="0.75"/>
<text x="380.6" y="656.8" font-size="7.3" fill="#1a1a1a" stroke="#1a1a1a" stroke-width="0.15" text-anchor="middle">Post implantation (days)</text>
<text font-size="7.3" fill="#1a1a1a" stroke="#1a1a1a" stroke-width="0.15" text-anchor="middle" transform="translate(279 560.5) rotate(-90)">Body weight (%)</text>
<line x1="306.4" y1="582" x2="317.9" y2="582" stroke="#4fd68a" stroke-width="0.75"/>
<circle cx="312.1" cy="582" r="1.7" fill="#fff" stroke="#4fd68a" stroke-width="0.75"/>
<text x="324.8" y="584.2" font-size="6.15" fill="#1a1a1a" stroke="#1a1a1a" stroke-width="0.13">Vector</text>
<line x1="306.4" y1="594.4" x2="317.9" y2="594.4" stroke="#f0241c" stroke-width="0.75"/>
<rect x="310.5" y="592.8" width="3.2" height="3.2" fill="#fff" stroke="#f0241c" stroke-width="0.75"/>
<text x="324.8" y="596.6" font-size="6.15" fill="#1a1a1a" stroke="#1a1a1a" stroke-width="0.13">ICAM1</text>
<line x1="306.4" y1="606.5" x2="317.9" y2="606.5" stroke="#3f7fd8" stroke-width="0.75"/>
<polygon points="312.1,604.3 314.1,607.9 310.1,607.9" fill="#fff" stroke="#3f7fd8" stroke-width="0.75"/>
<text x="324.8" y="608.7" font-size="6.15" fill="#1a1a1a" stroke="#1a1a1a" stroke-width="0.13">ICAM1+ICG001</text>
<text x="378.5" y="513.5" font-size="5.3" fill="#1a1a1a" stroke="#1a1a1a" stroke-width="0.11"><tspan font-style="italic">P</tspan> = 0.0001</text>
<text x="380" y="541.7" font-size="5.3" fill="#1a1a1a" stroke="#1a1a1a" stroke-width="0.11"><tspan font-style="italic">P</tspan> = 0.0083</text>
</g>
<g id="pm">
<text x="468.3" y="487.7" font-size="10" fill="#000" stroke="#000" stroke-width="0.21" font-weight="bold">m</text>
<text x="598" y="489.4" font-size="9" fill="#1a1a1a" stroke="#1a1a1a" stroke-width="0.18" text-anchor="middle">X01</text>
<line x1="517.4" y1="493.5" x2="517.4" y2="632.55" stroke="#2a2a2a" stroke-width="0.9"/>
<line x1="517.1" y1="632.25" x2="680.8" y2="632.25" stroke="#2a2a2a" stroke-width="0.9"/>
<line x1="514.6" y1="632.25" x2="517.4" y2="632.25" stroke="#2a2a2a" stroke-width="0.9"/>
<text x="513.4" y="634.75" font-size="7.2" fill="#1a1a1a" stroke="#1a1a1a" stroke-width="0.15" text-anchor="end">0</text>
<line x1="514.6" y1="604.56" x2="517.4" y2="604.56" stroke="#2a2a2a" stroke-width="0.9"/>
<text x="513.4" y="607.06" font-size="7.2" fill="#1a1a1a" stroke="#1a1a1a" stroke-width="0.15" text-anchor="end">20</text>
<line x1="514.6" y1="576.87" x2="517.4" y2="576.87" stroke="#2a2a2a" stroke-width="0.9"/>
<text x="513.4" y="579.37" font-size="7.2" fill="#1a1a1a" stroke="#1a1a1a" stroke-width="0.15" text-anchor="end">40</text>
<line x1="514.6" y1="549.18" x2="517.4" y2="549.18" stroke="#2a2a2a" stroke-width="0.9"/>
<text x="513.4" y="551.68" font-size="7.2" fill="#1a1a1a" stroke="#1a1a1a" stroke-width="0.15" text-anchor="end">60</text>
<line x1="514.6" y1="521.49" x2="517.4" y2="521.49" stroke="#2a2a2a" stroke-width="0.9"/>
<text x="513.4" y="523.99" font-size="7.2" fill="#1a1a1a" stroke="#1a1a1a" stroke-width="0.15" text-anchor="end">80</text>
<line x1="514.6" y1="493.8" x2="517.4" y2="493.8" stroke="#2a2a2a" stroke-width="0.9"/>
<text x="513.4" y="496.3" font-size="7.2" fill="#1a1a1a" stroke="#1a1a1a" stroke-width="0.15" text-anchor="end">100</text>
<line x1="517.4" y1="632.25" x2="517.4" y2="635.25" stroke="#2a2a2a" stroke-width="0.9"/>
<text x="517.4" y="644" font-size="7.2" fill="#1a1a1a" stroke="#1a1a1a" stroke-width="0.15" text-anchor="middle">0</text>
<line x1="544.58" y1="632.25" x2="544.58" y2="635.25" stroke="#2a2a2a" stroke-width="0.9"/>
<text x="544.58" y="644" font-size="7.2" fill="#1a1a1a" stroke="#1a1a1a" stroke-width="0.15" text-anchor="middle">10</text>
<line x1="571.77" y1="632.25" x2="571.77" y2="635.25" stroke="#2a2a2a" stroke-width="0.9"/>
<text x="571.77" y="644" font-size="7.2" fill="#1a1a1a" stroke="#1a1a1a" stroke-width="0.15" text-anchor="middle">20</text>
<line x1="598.95" y1="632.25" x2="598.95" y2="635.25" stroke="#2a2a2a" stroke-width="0.9"/>
<text x="598.95" y="644" font-size="7.2" fill="#1a1a1a" stroke="#1a1a1a" stroke-width="0.15" text-anchor="middle">30</text>
<line x1="626.13" y1="632.25" x2="626.13" y2="635.25" stroke="#2a2a2a" stroke-width="0.9"/>
<text x="626.13" y="644" font-size="7.2" fill="#1a1a1a" stroke="#1a1a1a" stroke-width="0.15" text-anchor="middle">40</text>
<line x1="653.32" y1="632.25" x2="653.32" y2="635.25" stroke="#2a2a2a" stroke-width="0.9"/>
<text x="653.32" y="644" font-size="7.2" fill="#1a1a1a" stroke="#1a1a1a" stroke-width="0.15" text-anchor="middle">50</text>
<line x1="680.5" y1="632.25" x2="680.5" y2="635.25" stroke="#2a2a2a" stroke-width="0.9"/>
<text x="680.5" y="644" font-size="7.2" fill="#1a1a1a" stroke="#1a1a1a" stroke-width="0.15" text-anchor="middle">60</text>
<polyline points="593.51,493.8 628.85,493.8 628.85,563.02 650.6,563.02 650.6,586.15 664.19,586.15 664.19,609.13 672.35,609.13 672.35,632.25" fill="none" stroke="#4a86d8" stroke-width="1" stroke-linejoin="round"/>
<polyline points="574.49,493.45 574.49,493.8 574.49,516.92 585.36,516.92 585.36,586.15 588.08,586.15 588.08,632.25" fill="none" stroke="#f4423a" stroke-width="1" stroke-linejoin="round"/>
<polyline points="517.4,493.8 593.51,493.8 593.51,516.92 612.54,516.92 612.54,563.02 620.7,563.02 620.7,586.15 647.88,586.15 647.88,632.25" fill="none" stroke="#6fe39c" stroke-width="1" stroke-linejoin="round"/>
<text x="598.6" y="656" font-size="7.3" fill="#1a1a1a" stroke="#1a1a1a" stroke-width="0.15" text-anchor="middle">Survival time (days)</text>
<text font-size="7.3" fill="#1a1a1a" stroke="#1a1a1a" stroke-width="0.15" text-anchor="middle" transform="translate(494.2 562) rotate(-90)">Probability of survival</text>
<text x="640.5" y="501.6" font-size="7.2" fill="#111" stroke="#111" stroke-width="0.15">MST</text>
<text x="640.5" y="510.6" font-size="7.2" fill="#4fd68a" stroke="#4fd68a" stroke-width="0.15">36.5</text>
<text x="640.5" y="519.6" font-size="7.2" fill="#f0241c" stroke="#f0241c" stroke-width="0.15">25</text>
<text x="640.5" y="528.6" font-size="7.2" fill="#3c78d8" stroke="#3c78d8" stroke-width="0.15">45</text>
<line x1="519.2" y1="572" x2="532" y2="572" stroke="#6fe39c" stroke-width="1"/>
<text x="539" y="574.4" font-size="6.9" fill="#1a1a1a" stroke="#1a1a1a" stroke-width="0.14">Vector</text>
<line x1="519.2" y1="583.2" x2="532" y2="583.2" stroke="#f4423a" stroke-width="1"/>
<text x="539" y="585.6" font-size="6.9" fill="#1a1a1a" stroke="#1a1a1a" stroke-width="0.14">ICAM1</text>
<line x1="519.2" y1="594.4" x2="532" y2="594.4" stroke="#4a86d8" stroke-width="1"/>
<text x="539" y="596.8" font-size="6.9" fill="#1a1a1a" stroke="#1a1a1a" stroke-width="0.14">ICAM1+ICG001</text>
<text x="552.3" y="611.2" font-size="7" fill="#4fd68a" stroke="#4fd68a" stroke-width="0.14"><tspan font-style="italic">P</tspan> = 0.0008</text>
<line x1="587" y1="609" x2="644.5" y2="609" stroke="#6fe39c" stroke-width="0.5" stroke-dasharray="1.4 0.9"/>
<polygon points="648.2,609 642.6,606.6 642.6,611.4" fill="#3fcf7a"/>
<text x="551.7" y="625" font-size="7" fill="#3c78d8" stroke="#3c78d8" stroke-width="0.14"><tspan font-style="italic">P</tspan> = 0.0008</text>
<line x1="587" y1="622.3" x2="668.5" y2="622.3" stroke="#4a86d8" stroke-width="0.5" stroke-dasharray="1.4 0.9"/>
<polygon points="672.6,622.3 667,619.9 667,624.7" fill="#2f66c8"/>
</g>
</svg>
</body></html>
